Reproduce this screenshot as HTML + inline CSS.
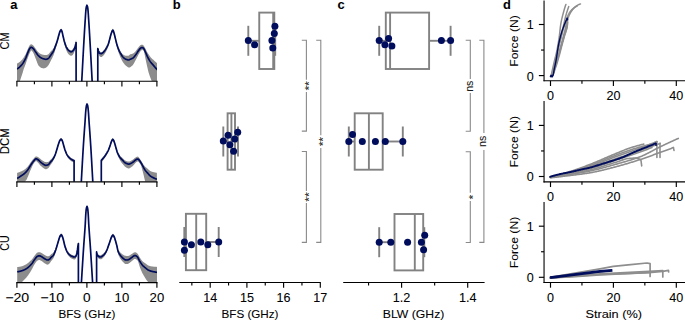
<!DOCTYPE html>
<html><head><meta charset="utf-8"><style>
html,body{margin:0;padding:0;background:#fff;width:685px;height:320px;overflow:hidden}
svg{display:block;font-family:"Liberation Sans",sans-serif}
text{stroke:currentColor;stroke-width:0.08px}
</style></head><body>
<svg width="685" height="320" viewBox="0 0 685 320">
<defs><clipPath id="ca0"><rect x="16.9" y="-0.8" width="140.1" height="82"/></clipPath>
<clipPath id="ca1"><rect x="16.9" y="99.85" width="140.1" height="82"/></clipPath>
<clipPath id="ca2"><rect x="16.9" y="200.6" width="140.1" height="82"/></clipPath></defs>
<g clip-path="url(#ca0)">
<polygon points="17,63.52 17.25,63.41 17.5,63.3 17.75,63.18 18,63.04 18.25,62.9 18.5,62.75 18.75,62.59 18.99,62.43 19.24,62.26 19.49,62.08 19.74,61.9 19.99,61.71 20.24,61.5 20.49,61.29 20.74,61.06 20.99,60.82 21.24,60.58 21.49,60.32 21.74,60.05 21.99,59.77 22.24,59.48 22.49,59.17 22.74,58.86 22.98,58.53 23.23,58.18 23.48,57.81 23.73,57.42 23.98,57.04 24.23,56.64 24.48,56.23 24.73,55.8 24.98,55.36 25.23,54.91 25.48,54.44 25.73,53.96 25.98,53.43 26.23,52.87 26.48,52.28 26.73,51.67 26.97,51.06 27.22,50.44 27.47,49.84 27.72,49.27 27.97,48.73 28.22,48.2 28.47,47.65 28.72,47.1 28.97,46.57 29.22,46.09 29.47,45.67 29.72,45.33 29.97,45.08 30.22,44.84 30.47,44.62 30.72,44.44 30.96,44.33 31.21,44.3 31.46,44.32 31.71,44.4 31.96,44.53 32.21,44.69 32.46,44.87 32.71,45.08 32.96,45.28 33.21,45.48 33.46,45.71 33.71,45.99 33.96,46.31 34.21,46.65 34.46,47.01 34.71,47.38 34.95,47.74 35.2,48.1 35.45,48.44 35.7,48.77 35.95,49.12 36.2,49.47 36.45,49.83 36.7,50.19 36.95,50.54 37.2,50.88 37.45,51.21 37.7,51.53 37.95,51.82 38.2,52.09 38.45,52.33 38.69,52.54 38.94,52.74 39.19,52.94 39.44,53.13 39.69,53.31 39.94,53.48 40.19,53.63 40.44,53.78 40.69,53.91 40.94,54.02 41.19,54.13 41.44,54.23 41.69,54.33 41.94,54.42 42.19,54.5 42.44,54.58 42.68,54.65 42.93,54.72 43.18,54.77 43.43,54.83 43.68,54.87 43.93,54.91 44.18,54.95 44.43,55 44.68,55.03 44.93,55.07 45.18,55.1 45.43,55.11 45.68,55.12 45.93,55.11 46.18,55.1 46.43,55.08 46.67,55.03 46.92,54.96 47.17,54.87 47.42,54.77 47.67,54.65 47.92,54.54 48.17,54.41 48.42,54.23 48.67,54 48.92,53.74 49.17,53.44 49.42,53.12 49.67,52.79 49.92,52.43 50.17,52.13 50.42,51.85 50.66,51.58 50.91,51.32 51.16,51.07 51.41,50.82 51.66,50.56 51.91,50.3 52.16,50.02 52.41,49.73 52.66,49.43 52.91,49.1 53.16,48.75 53.41,48.37 53.66,47.95 53.91,47.5 54.16,46.99 54.41,46.44 54.65,45.87 54.9,45.28 55.15,44.68 55.4,44.08 55.65,43.47 55.9,42.86 56.15,42.23 56.4,41.59 56.65,40.92 56.9,40.23 57.15,39.52 57.4,38.79 57.65,38.01 57.9,37.16 58.15,36.23 58.39,35.27 58.64,34.34 58.89,33.47 59.14,32.61 59.39,31.75 59.64,30.94 59.89,30.25 60.14,29.73 60.39,29.29 60.64,28.9 60.89,28.63 61.14,28.56 61.39,28.82 61.64,29.34 61.89,29.99 62.14,30.71 62.38,31.68 62.63,32.84 62.88,34.04 63.13,35.14 63.38,36.19 63.63,37.24 63.88,38.28 64.13,39.28 64.38,40.19 64.63,41.02 64.88,41.82 65.13,42.58 65.38,43.3 65.63,43.98 65.88,44.6 66.13,45.17 66.37,45.67 66.62,46.13 66.87,46.56 67.12,46.97 67.37,47.35 67.62,47.71 67.87,48.04 68.12,48.34 68.37,48.6 68.62,48.83 68.87,49.04 69.12,49.25 69.37,49.45 69.62,49.65 69.87,49.83 70.12,49.98 70.36,50.12 70.61,50.22 70.86,50.28 71.11,50.3 71.36,50.27 71.61,50.2 71.86,50.1 72.11,49.92 72.36,49.67 72.61,49.41 72.86,49.13 73.11,48.83 73.36,48.47 73.61,48.03 73.86,47.52 74.11,46.96 74.35,46.34 74.6,45.67 74.85,44.97 75.1,44.17 75.35,43.18 75.6,42.06 75.85,40.87 76.1,39.54 76.1,45.04 75.85,46.37 75.6,47.56 75.35,48.68 75.1,49.67 74.85,50.47 74.6,51.17 74.35,51.84 74.11,52.46 73.86,53.02 73.61,53.53 73.36,53.97 73.11,54.33 72.86,54.63 72.61,54.91 72.36,55.17 72.11,55.42 71.86,55.6 71.61,55.7 71.36,55.77 71.11,55.8 70.86,55.78 70.61,55.72 70.36,55.62 70.12,55.48 69.87,55.33 69.62,55.15 69.37,54.95 69.12,54.75 68.87,54.54 68.62,54.33 68.37,54.05 68.12,53.71 67.87,53.32 67.62,52.91 67.37,52.47 67.12,52 66.87,51.5 66.62,50.98 66.37,50.44 66.13,49.86 65.88,49.2 65.63,48.49 65.38,47.73 65.13,46.92 64.88,46.06 64.63,45.14 64.38,44.18 64.13,43.14 63.88,42.02 63.63,40.86 63.38,39.68 63.13,38.5 62.88,37.28 62.63,35.96 62.38,34.67 62.14,33.57 61.89,32.81 61.64,32.2 61.39,31.72 61.14,31.51 60.89,31.62 60.64,31.94 60.39,32.37 60.14,32.86 59.89,33.42 59.64,34.15 59.39,35.01 59.14,35.91 58.89,36.81 58.64,37.72 58.39,38.7 58.15,39.7 57.9,40.74 57.65,41.77 57.4,42.74 57.15,43.66 56.9,44.56 56.65,45.43 56.4,46.29 56.15,47.12 55.9,47.93 55.65,48.73 55.4,49.53 55.15,50.32 54.9,51.1 54.65,51.88 54.41,52.64 54.16,53.37 53.91,54.08 53.66,54.75 53.41,55.39 53.16,55.98 52.91,56.55 52.66,57.1 52.41,57.62 52.16,58.13 51.91,58.63 51.66,59.11 51.41,59.58 51.16,60.06 50.91,60.52 50.66,61 50.42,61.49 50.17,61.98 49.92,62.49 49.67,62.99 49.42,63.49 49.17,63.96 48.92,64.41 48.67,64.83 48.42,65.21 48.17,65.55 47.92,65.84 47.67,66.11 47.42,66.38 47.17,66.64 46.92,66.88 46.67,67.11 46.43,67.31 46.18,67.49 45.93,67.64 45.68,67.78 45.43,67.9 45.18,68.01 44.93,68.1 44.68,68.19 44.43,68.28 44.18,68.36 43.93,68.42 43.68,68.4 43.43,68.37 43.18,68.33 42.93,68.29 42.68,68.24 42.44,68.18 42.19,68.12 41.94,68.05 41.69,67.98 41.44,67.9 41.19,67.82 40.94,67.71 40.69,67.54 40.44,67.35 40.19,67.15 39.94,66.94 39.69,66.72 39.44,66.48 39.19,66.24 38.94,65.99 38.69,65.73 38.45,65.46 38.2,65.07 37.95,64.49 37.7,63.9 37.45,63.28 37.2,62.65 36.95,62 36.7,61.34 36.45,60.69 36.2,60.03 35.95,59.37 35.7,58.72 35.45,58.09 35.2,57.48 34.95,56.85 34.71,56.22 34.46,55.58 34.21,54.95 33.96,54.34 33.71,53.75 33.46,53.21 33.21,52.7 32.96,52.26 32.71,51.91 32.46,51.57 32.21,51.24 31.96,50.93 31.71,50.67 31.46,50.44 31.21,50.33 30.96,50.62 30.72,50.99 30.47,51.42 30.22,51.9 29.97,52.39 29.72,52.91 29.47,53.5 29.22,54.08 28.97,54.67 28.72,55.32 28.47,55.98 28.22,56.65 27.97,57.3 27.72,57.96 27.47,58.65 27.22,59.37 26.97,60.1 26.73,60.83 26.48,61.56 26.23,62.26 25.98,62.95 25.73,63.7 25.48,64.41 25.23,65.09 24.98,65.77 24.73,66.43 24.48,67.08 24.23,67.72 23.98,68.34 23.73,68.96 23.48,69.84 23.23,70.71 22.98,71.56 22.74,72.39 22.49,73.2 22.24,74 21.99,74.79 21.74,75.57 21.49,76.34 21.24,77.1 20.99,77.85 20.74,78.58 20.49,79.3 20.24,80.02 19.99,80.75 19.74,81.2 19.49,81.2 19.24,81.2 18.99,81.2 18.75,81.2 18.5,81.2 18.25,81.2 18,81.2 17.75,81.2 17.5,81.2 17.25,81.2 17,81.2" fill="#8c8c8c"/>
<polygon points="97.8,46.5 98.05,47.62 98.3,48.63 98.55,49.5 98.8,50.16 99.04,50.63 99.29,51.03 99.54,51.36 99.79,51.61 100.04,51.76 100.29,51.86 100.54,51.95 100.79,52.03 101.04,52.09 101.29,52.1 101.53,52.07 101.78,51.98 102.03,51.84 102.28,51.67 102.53,51.48 102.78,51.28 103.03,51.08 103.28,50.86 103.53,50.61 103.77,50.33 104.02,50.03 104.27,49.72 104.52,49.4 104.77,49.07 105.02,48.73 105.27,48.36 105.52,47.98 105.77,47.58 106.02,47.17 106.26,46.75 106.51,46.31 106.76,45.86 107.01,45.38 107.26,44.89 107.51,44.37 107.76,43.85 108.01,43.3 108.26,42.69 108.51,41.99 108.75,41.15 109,40.23 109.25,39.31 109.5,38.4 109.75,37.46 110,36.5 110.25,35.5 110.5,34.48 110.75,33.56 110.99,32.73 111.24,31.96 111.49,31.24 111.74,30.53 111.99,29.92 112.24,29.43 112.49,28.98 112.74,28.71 112.99,28.81 113.24,29.19 113.48,29.69 113.73,30.5 113.98,31.38 114.23,32.28 114.48,33.23 114.73,34.23 114.98,35.31 115.23,36.39 115.48,37.42 115.72,38.41 115.97,39.39 116.22,40.41 116.47,41.43 116.72,42.37 116.97,43.23 117.22,44.04 117.47,44.81 117.72,45.54 117.97,46.25 118.21,46.88 118.46,47.47 118.71,48.03 118.96,48.55 119.21,49.05 119.46,49.53 119.71,49.98 119.96,50.41 120.21,50.81 120.45,51.19 120.7,51.56 120.95,51.93 121.2,52.3 121.45,52.69 121.7,53.05 121.95,53.38 122.2,53.69 122.45,53.95 122.7,54.17 122.94,54.37 123.19,54.57 123.44,54.74 123.69,54.91 123.94,55.05 124.19,55.19 124.44,55.31 124.69,55.41 124.94,55.49 125.18,55.56 125.43,55.63 125.68,55.69 125.93,55.73 126.18,55.77 126.43,55.79 126.68,55.81 126.93,55.81 127.18,55.82 127.43,55.82 127.67,55.82 127.92,55.81 128.17,55.78 128.42,55.72 128.67,55.61 128.92,55.43 129.17,55.21 129.42,54.97 129.67,54.72 129.92,54.48 130.16,54.36 130.41,54.3 130.66,54.25 130.91,54.19 131.16,54.14 131.41,54.08 131.66,54.01 131.91,53.94 132.16,53.86 132.4,53.77 132.65,53.67 132.9,53.56 133.15,53.43 133.4,53.27 133.65,53.09 133.9,52.89 134.15,52.67 134.4,52.43 134.65,52.18 134.89,51.93 135.14,51.67 135.39,51.41 135.64,51.15 135.89,50.86 136.14,50.54 136.39,50.2 136.64,49.85 136.89,49.49 137.13,49.13 137.38,48.77 137.63,48.42 137.88,48.08 138.13,47.75 138.38,47.45 138.63,47.15 138.88,46.85 139.13,46.54 139.38,46.23 139.62,45.94 139.87,45.67 140.12,45.43 140.37,45.23 140.62,45.07 140.87,44.96 141.12,44.87 141.37,44.79 141.62,44.73 141.86,44.69 142.11,44.69 142.36,44.72 142.61,44.81 142.86,44.96 143.11,45.15 143.36,45.37 143.61,45.61 143.86,45.91 144.11,46.28 144.35,46.68 144.6,47.14 144.85,47.63 145.1,48.12 145.35,48.6 145.6,49.05 145.85,49.51 146.1,49.98 146.35,50.47 146.59,50.96 146.84,51.44 147.09,51.92 147.34,52.38 147.59,52.81 147.84,53.21 148.09,53.59 148.34,53.96 148.59,54.32 148.84,54.7 149.08,55.09 149.33,55.47 149.58,55.84 149.83,56.2 150.08,56.54 150.33,56.87 150.58,57.19 150.83,57.49 151.08,57.77 151.33,58.04 151.57,58.3 151.82,58.55 152.07,58.78 152.32,58.99 152.57,59.19 152.82,59.4 153.07,59.61 153.32,59.83 153.57,60.05 153.81,60.28 154.06,60.51 154.31,60.74 154.56,60.97 154.81,61.2 155.06,61.42 155.31,61.64 155.56,61.86 155.81,62.07 156.06,62.28 156.3,62.49 156.55,62.7 156.8,62.9 157.05,63.1 157.3,63.3 157.3,81.2 157.05,81.2 156.8,81.2 156.55,81.2 156.3,81.2 156.06,81.2 155.81,81.2 155.56,81.2 155.31,81.2 155.06,81.2 154.81,81.2 154.56,81.2 154.31,81.2 154.06,81.2 153.81,81.2 153.57,81.2 153.32,81.2 153.07,81.2 152.82,81.2 152.57,81.2 152.32,81.2 152.07,81.2 151.82,81.2 151.57,80.71 151.33,80.11 151.08,79.49 150.83,78.86 150.58,78.22 150.33,77.56 150.08,76.89 149.83,76.2 149.58,75.49 149.33,74.78 149.08,74.05 148.84,73.31 148.59,72.41 148.34,71.41 148.09,70.41 147.84,69.39 147.59,68.36 147.34,67.29 147.09,66.2 146.84,65.09 146.59,63.97 146.35,62.85 146.1,61.73 145.85,60.54 145.6,59.31 145.35,58.09 145.1,56.84 144.85,55.57 144.6,54.31 144.35,53.08 144.11,51.9 143.86,51.19 143.61,50.86 143.36,50.6 143.11,50.35 142.86,50.13 142.61,49.95 142.36,49.84 142.11,49.84 141.86,49.99 141.62,50.17 141.37,50.38 141.12,50.61 140.87,50.85 140.62,51.1 140.37,51.41 140.12,51.76 139.87,52.15 139.62,52.56 139.38,53 139.13,53.45 138.88,53.91 138.63,54.36 138.38,54.81 138.13,55.26 137.88,55.73 137.63,56.21 137.38,56.71 137.13,57.22 136.89,57.73 136.64,58.24 136.39,58.73 136.14,59.22 135.89,59.69 135.64,60.13 135.39,60.6 135.14,61.08 134.89,61.56 134.65,62.04 134.4,62.51 134.15,62.96 133.9,63.41 133.65,63.83 133.4,64.23 133.15,64.61 132.9,64.96 132.65,65.25 132.4,65.48 132.16,65.71 131.91,65.92 131.66,66.12 131.41,66.32 131.16,66.52 130.91,66.71 130.66,66.89 130.41,67.08 130.16,67.27 129.92,67.41 129.67,67.45 129.42,67.5 129.17,67.54 128.92,67.56 128.67,67.54 128.42,67.46 128.17,67.34 127.92,67.19 127.67,67.02 127.43,66.84 127.18,66.65 126.93,66.47 126.68,66.28 126.43,66.08 126.18,65.88 125.93,65.66 125.68,65.43 125.43,65.2 125.18,64.95 124.94,64.69 124.69,64.43 124.44,64.15 124.19,63.85 123.94,63.53 123.69,63.2 123.44,62.86 123.19,62.5 122.94,62.13 122.7,61.74 122.45,61.34 122.2,60.9 121.95,60.41 121.7,59.89 121.45,59.36 121.2,58.82 120.95,58.29 120.7,57.76 120.45,57.24 120.21,56.7 119.96,56.14 119.71,55.55 119.46,54.94 119.21,54.31 118.96,53.66 118.71,52.97 118.46,52.26 118.21,51.51 117.97,50.74 117.72,49.97 117.47,49.17 117.22,48.34 116.97,47.47 116.72,46.55 116.47,45.55 116.22,44.47 115.97,43.39 115.72,42.34 115.48,41.29 115.23,40.2 114.98,39.05 114.73,37.91 114.48,36.85 114.23,35.84 113.98,34.88 113.73,34 113.48,33.19 113.24,32.69 112.99,32.31 112.74,32.21 112.49,32.48 112.24,32.93 111.99,33.42 111.74,34.03 111.49,34.74 111.24,35.46 110.99,36.23 110.75,37.06 110.5,37.98 110.25,39 110,40.01 109.75,41.02 109.5,42.02 109.25,43 109,43.98 108.75,44.96 108.51,45.86 108.26,46.62 108.01,47.3 107.76,47.91 107.51,48.5 107.26,49.07 107.01,49.63 106.76,50.16 106.51,50.68 106.26,51.19 106.02,51.67 105.77,52.11 105.52,52.53 105.27,52.94 105.02,53.33 104.77,53.7 104.52,54.05 104.27,54.39 104.02,54.73 103.77,55.05 103.53,55.36 103.28,55.63 103.03,55.88 102.78,56.1 102.53,56.32 102.28,56.54 102.03,56.74 101.78,56.9 101.53,57.02 101.29,57.07 101.04,57.09 100.79,57 100.54,56.88 100.29,56.75 100.04,56.61 99.79,56.42 99.54,56.13 99.29,55.76 99.04,55.32 98.8,54.82 98.55,54.11 98.3,53.21 98.05,52.16 97.8,51" fill="#8c8c8c"/>
<polyline points="17,69 17.25,68.86 17.5,68.7 17.75,68.54 18,68.37 18.25,68.18 18.5,67.99 18.75,67.8 18.99,67.59 19.24,67.38 19.49,67.16 19.74,66.94 19.99,66.71 20.24,66.47 20.49,66.22 20.74,65.96 20.99,65.69 21.24,65.41 21.49,65.12 21.74,64.82 21.99,64.5 22.24,64.18 22.49,63.84 22.74,63.49 22.98,63.13 23.23,62.75 23.48,62.35 23.73,61.93 23.98,61.49 24.23,61.04 24.48,60.57 24.73,60.08 24.98,59.59 25.23,59.08 25.48,58.56 25.73,58.02 25.98,57.44 26.23,56.82 26.48,56.17 26.73,55.5 26.97,54.83 27.22,54.15 27.47,53.5 27.72,52.86 27.97,52.26 28.22,51.68 28.47,51.07 28.72,50.46 28.97,49.87 29.22,49.33 29.47,48.87 29.72,48.5 29.97,48.22 30.22,47.95 30.47,47.7 30.72,47.5 30.96,47.36 31.21,47.3 31.46,47.32 31.71,47.4 31.96,47.53 32.21,47.69 32.46,47.87 32.71,48.08 32.96,48.28 33.21,48.49 33.46,48.75 33.71,49.05 33.96,49.38 34.21,49.74 34.46,50.12 34.71,50.51 34.95,50.9 35.2,51.28 35.45,51.64 35.7,51.98 35.95,52.34 36.2,52.7 36.45,53.07 36.7,53.43 36.95,53.79 37.2,54.14 37.45,54.48 37.7,54.81 37.95,55.11 38.2,55.39 38.45,55.65 38.69,55.9 38.94,56.14 39.19,56.37 39.44,56.6 39.69,56.82 39.94,57.02 40.19,57.21 40.44,57.39 40.69,57.56 40.94,57.71 41.19,57.85 41.44,57.97 41.69,58.1 41.94,58.21 42.19,58.32 42.44,58.42 42.68,58.52 42.93,58.61 43.18,58.69 43.43,58.77 43.68,58.84 43.93,58.91 44.18,58.97 44.43,59.04 44.68,59.1 44.93,59.16 45.18,59.21 45.43,59.26 45.68,59.29 45.93,59.3 46.18,59.29 46.43,59.26 46.67,59.19 46.92,59.11 47.17,59.01 47.42,58.9 47.67,58.77 47.92,58.64 48.17,58.5 48.42,58.3 48.67,58.07 48.92,57.79 49.17,57.49 49.42,57.15 49.67,56.8 49.92,56.44 50.17,56.07 50.42,55.7 50.66,55.33 50.91,54.98 51.16,54.64 51.41,54.29 51.66,53.94 51.91,53.58 52.16,53.21 52.41,52.83 52.66,52.43 52.91,52.01 53.16,51.56 53.41,51.09 53.66,50.58 53.91,50.03 54.16,49.45 54.41,48.84 54.65,48.21 54.9,47.56 55.15,46.9 55.4,46.23 55.65,45.56 55.9,44.88 56.15,44.19 56.4,43.49 56.65,42.76 56.9,42.01 57.15,41.24 57.4,40.44 57.65,39.6 57.9,38.68 58.15,37.72 58.39,36.75 58.64,35.81 58.89,34.92 59.14,34.06 59.39,33.18 59.64,32.36 59.89,31.65 60.14,31.13 60.39,30.67 60.64,30.27 60.89,29.99 61.14,29.9 61.39,30.15 61.64,30.66 61.89,31.3 62.14,32.01 62.38,32.98 62.63,34.14 62.88,35.34 63.13,36.44 63.38,37.49 63.63,38.54 63.88,39.58 64.13,40.58 64.38,41.49 64.63,42.32 64.88,43.12 65.13,43.89 65.38,44.62 65.63,45.31 65.88,45.95 66.13,46.53 66.37,47.05 66.62,47.52 66.87,47.97 67.12,48.39 67.37,48.79 67.62,49.16 67.87,49.5 68.12,49.81 68.37,50.09 68.62,50.33 68.87,50.54 69.12,50.75 69.37,50.95 69.62,51.15 69.87,51.33 70.12,51.48 70.36,51.62 70.61,51.72 70.86,51.78 71.11,51.8 71.36,51.77 71.61,51.7 71.86,51.6 72.11,51.46 72.36,51.29 72.61,51.11 72.86,50.92 73.11,50.7 73.36,50.42 73.61,50.07 73.86,49.64 74.11,49.16 74.35,48.62 74.6,48.04 74.85,47.42 75.1,46.71 75.35,45.82 75.6,44.81 75.85,43.72 76.1,42.5 76.1,91.2 80.66,101.2 80.75,99.57 80.84,97.95 80.93,96.32 81.02,94.69 81.11,93.06 81.19,91.44 81.28,89.81 81.37,88.18 81.46,86.56 81.55,84.93 81.64,83.3 81.72,81.67 81.81,80.05 81.9,78.42 81.99,76.79 82.08,75.17 82.16,73.54 82.25,71.91 82.34,70.28 82.42,68.66 82.51,67.03 82.59,65.4 82.68,63.78 82.77,62.15 82.86,60.52 82.94,58.89 83.03,57.27 83.12,55.64 83.21,54.01 83.29,52.39 83.38,50.76 83.47,49.13 83.56,47.51 83.65,45.88 83.75,44.25 83.84,42.62 83.93,41 84.03,39.37 84.12,37.74 84.22,36.12 84.31,34.49 84.41,32.86 84.5,31.23 84.6,29.61 84.7,27.98 84.8,26.35 84.9,24.73 85.01,23.1 85.11,21.47 85.22,19.84 85.33,18.22 85.43,16.59 85.53,14.96 85.64,13.34 85.77,11.71 85.91,10.08 86.09,8.45 86.35,6.83 86.95,5.2 87.55,6.83 87.81,8.45 87.99,10.08 88.13,11.71 88.26,13.34 88.37,14.96 88.47,16.59 88.57,18.22 88.68,19.84 88.79,21.47 88.89,23.1 89,24.73 89.1,26.35 89.2,27.98 89.3,29.61 89.4,31.23 89.49,32.86 89.59,34.49 89.68,36.12 89.78,37.74 89.87,39.37 89.97,41 90.06,42.62 90.15,44.25 90.25,45.88 90.34,47.51 90.43,49.13 90.52,50.76 90.61,52.39 90.69,54.01 90.78,55.64 90.87,57.27 90.96,58.89 91.04,60.52 91.13,62.15 91.22,63.78 91.31,65.4 91.39,67.03 91.48,68.66 91.56,70.28 91.65,71.91 91.74,73.54 91.82,75.17 91.91,76.79 92,78.42 92.09,80.05 92.18,81.67 92.26,83.3 92.35,84.93 92.44,86.56 92.53,88.18 92.62,89.81 92.71,91.44 92.79,93.06 92.88,94.69 92.97,96.32 93.06,97.95 93.15,99.57 93.24,101.2 97.8,91.2 97.8,48.5 98.05,49.58 98.3,50.56 98.55,51.38 98.8,52.01 99.04,52.43 99.29,52.79 99.54,53.09 99.79,53.3 100.04,53.41 100.29,53.47 100.54,53.53 100.79,53.56 101.04,53.59 101.29,53.6 101.53,53.57 101.78,53.48 102.03,53.34 102.28,53.17 102.53,52.98 102.78,52.78 103.03,52.58 103.28,52.36 103.53,52.11 103.77,51.83 104.02,51.53 104.27,51.22 104.52,50.9 104.77,50.57 105.02,50.23 105.27,49.86 105.52,49.48 105.77,49.08 106.02,48.67 106.26,48.25 106.51,47.81 106.76,47.36 107.01,46.88 107.26,46.39 107.51,45.87 107.76,45.35 108.01,44.8 108.26,44.19 108.51,43.49 108.75,42.65 109,41.73 109.25,40.81 109.5,39.9 109.75,38.96 110,38 110.25,37 110.5,35.98 110.75,35.06 110.99,34.23 111.24,33.46 111.49,32.74 111.74,32.03 111.99,31.42 112.24,30.93 112.49,30.48 112.74,30.21 112.99,30.31 113.24,30.69 113.48,31.19 113.73,32 113.98,32.88 114.23,33.78 114.48,34.73 114.73,35.73 114.98,36.81 115.23,37.89 115.48,38.92 115.72,39.91 115.97,40.89 116.22,41.91 116.47,42.93 116.72,43.87 116.97,44.73 117.22,45.54 117.47,46.31 117.72,47.04 117.97,47.75 118.21,48.42 118.46,49.06 118.71,49.67 118.96,50.24 119.21,50.79 119.46,51.32 119.71,51.82 119.96,52.3 120.21,52.75 120.45,53.18 120.7,53.6 120.95,54.02 121.2,54.44 121.45,54.88 121.7,55.31 121.95,55.72 122.2,56.1 122.45,56.43 122.7,56.73 122.94,57.01 123.19,57.27 123.44,57.53 123.69,57.76 123.94,57.99 124.19,58.19 124.44,58.39 124.69,58.56 124.94,58.72 125.18,58.87 125.43,59.01 125.68,59.14 125.93,59.26 126.18,59.37 126.43,59.47 126.68,59.56 126.93,59.64 127.18,59.72 127.43,59.8 127.67,59.87 127.92,59.93 128.17,59.98 128.42,60 128.67,59.99 128.92,59.92 129.17,59.82 129.42,59.69 129.67,59.56 129.92,59.44 130.16,59.33 130.41,59.23 130.66,59.13 130.91,59.03 131.16,58.93 131.41,58.83 131.66,58.72 131.91,58.6 132.16,58.48 132.4,58.34 132.65,58.19 132.9,58.03 133.15,57.84 133.4,57.62 133.65,57.38 133.9,57.11 134.15,56.83 134.4,56.53 134.65,56.22 134.89,55.91 135.14,55.59 135.39,55.27 135.64,54.95 135.89,54.61 136.14,54.26 136.39,53.88 136.64,53.49 136.89,53.1 137.13,52.7 137.38,52.3 137.63,51.91 137.88,51.53 138.13,51.17 138.38,50.83 138.63,50.49 138.88,50.15 139.13,49.8 139.38,49.46 139.62,49.13 139.87,48.83 140.12,48.55 140.37,48.31 140.62,48.11 140.87,47.96 141.12,47.84 141.37,47.72 141.62,47.61 141.86,47.54 142.11,47.5 142.36,47.52 142.61,47.61 142.86,47.76 143.11,47.95 143.36,48.17 143.61,48.41 143.86,48.71 144.11,49.11 144.35,49.6 144.6,50.15 144.85,50.72 145.1,51.31 145.35,51.88 145.6,52.41 145.85,52.96 146.1,53.52 146.35,54.09 146.59,54.67 146.84,55.25 147.09,55.82 147.34,56.36 147.59,56.89 147.84,57.38 148.09,57.85 148.34,58.31 148.59,58.77 148.84,59.21 149.08,59.64 149.33,60.06 149.58,60.47 149.83,60.87 150.08,61.25 150.33,61.62 150.58,61.97 150.83,62.31 151.08,62.63 151.33,62.94 151.57,63.23 151.82,63.52 152.07,63.8 152.32,64.08 152.57,64.35 152.82,64.63 153.07,64.91 153.32,65.2 153.57,65.5 153.81,65.79 154.06,66.09 154.31,66.39 154.56,66.69 154.81,66.99 155.06,67.29 155.31,67.58 155.56,67.87 155.81,68.15 156.06,68.43 156.3,68.71 156.55,68.99 156.8,69.26 157.05,69.53 157.3,69.8" fill="none" stroke="#000c5c" stroke-width="1.7" stroke-linejoin="round"/>
</g>
<line x1="16.3" y1="81.2" x2="157.5" y2="81.2" stroke="#000" stroke-width="1.1"/>
<line x1="16.9" y1="81.2" x2="16.9" y2="86.4" stroke="#000" stroke-width="1.15"/>
<line x1="34.4" y1="81.2" x2="34.4" y2="84.2" stroke="#000" stroke-width="1.15"/>
<line x1="51.9" y1="81.2" x2="51.9" y2="86.4" stroke="#000" stroke-width="1.15"/>
<line x1="69.4" y1="81.2" x2="69.4" y2="84.2" stroke="#000" stroke-width="1.15"/>
<line x1="86.9" y1="81.2" x2="86.9" y2="86.4" stroke="#000" stroke-width="1.15"/>
<line x1="104.4" y1="81.2" x2="104.4" y2="84.2" stroke="#000" stroke-width="1.15"/>
<line x1="121.9" y1="81.2" x2="121.9" y2="86.4" stroke="#000" stroke-width="1.15"/>
<line x1="139.4" y1="81.2" x2="139.4" y2="84.2" stroke="#000" stroke-width="1.15"/>
<line x1="156.9" y1="81.2" x2="156.9" y2="86.4" stroke="#000" stroke-width="1.15"/>
<g clip-path="url(#ca1)">
<polygon points="17.1,172.93 17.35,172.85 17.6,172.78 17.85,172.7 18.1,172.62 18.35,172.53 18.6,172.45 18.85,172.36 19.1,172.26 19.35,172.16 19.6,172.06 19.85,171.95 20.1,171.84 20.35,171.73 20.6,171.61 20.85,171.5 21.1,171.39 21.35,171.27 21.6,171.15 21.85,171.04 22.1,170.92 22.35,170.81 22.6,170.69 22.85,170.57 23.1,170.44 23.35,170.31 23.6,170.16 23.85,170.01 24.1,169.86 24.35,169.7 24.6,169.53 24.85,169.35 25.1,169.17 25.35,168.97 25.6,168.77 25.85,168.55 26.1,168.32 26.35,168.09 26.6,167.83 26.85,167.56 27.1,167.29 27.35,167 27.6,166.71 27.85,166.41 28.1,166.1 28.35,165.77 28.6,165.42 28.85,165.05 29.1,164.68 29.35,164.29 29.6,163.9 29.85,163.52 30.1,163.14 30.35,162.78 30.6,162.43 30.85,162.09 31.1,161.74 31.35,161.39 31.6,161.04 31.85,160.71 32.1,160.37 32.35,160.05 32.6,159.74 32.85,159.45 33.1,159.17 33.35,158.91 33.6,158.64 33.85,158.34 34.1,158.03 34.35,157.73 34.6,157.44 34.85,157.18 35.1,156.94 35.35,156.75 35.6,156.6 35.85,156.52 36.1,156.5 36.35,156.48 36.6,156.5 36.85,156.56 37.1,156.65 37.35,156.75 37.6,156.87 37.85,156.99 38.1,157.11 38.35,157.26 38.6,157.45 38.85,157.65 39.1,157.87 39.35,158.08 39.6,158.28 39.85,158.46 40.1,158.65 40.35,158.87 40.6,159.08 40.85,159.29 41.1,159.5 41.35,159.71 41.6,159.9 41.85,160.09 42.1,160.26 42.35,160.43 42.6,160.58 42.85,160.73 43.1,160.89 43.35,161.05 43.6,161.21 43.85,161.37 44.1,161.52 44.35,161.66 44.6,161.78 44.85,161.89 45.1,161.98 45.35,162.05 45.6,162.09 45.85,162.1 46.1,162.11 46.35,162.13 46.6,162.13 46.85,162.12 47.1,162.1 47.35,162.07 47.6,162.03 47.85,161.98 48.1,161.92 48.35,161.82 48.6,161.66 48.85,161.45 49.1,161.21 49.35,160.95 49.6,160.67 49.85,160.39 50.1,160.11 50.35,159.86 50.6,159.64 50.85,159.42 51.1,159.2 51.35,158.98 51.6,158.76 51.85,158.53 52.1,158.28 52.35,158.02 52.6,157.74 52.85,157.44 53.1,157.11 53.35,156.76 53.6,156.38 53.85,155.98 54.1,155.54 54.35,155.04 54.6,154.52 54.85,153.97 55.1,153.4 55.35,152.79 55.6,152.11 55.85,151.37 56.1,150.59 56.35,149.77 56.6,148.95 56.85,148.13 57.1,147.33 57.35,146.49 57.6,145.63 57.85,144.77 58.1,143.94 58.35,143.17 58.6,142.43 58.85,141.68 59.1,140.95 59.35,140.29 59.6,139.74 59.85,139.32 60.1,138.94 60.35,138.58 60.6,138.28 60.85,138.08 61.1,138 61.35,138.1 61.6,138.38 61.85,138.77 62.1,139.22 62.35,139.72 62.6,140.41 62.85,141.25 63.1,142.18 63.35,143.12 63.6,144 63.85,144.86 64.1,145.74 64.35,146.63 64.6,147.48 64.85,148.27 65.1,148.97 65.35,149.64 65.6,150.3 65.85,150.92 66.1,151.52 66.35,152.09 66.6,152.62 66.85,153.12 67.1,153.57 67.35,153.98 67.6,154.36 67.85,154.72 68.1,155.06 68.35,155.38 68.6,155.68 68.85,155.97 69.1,156.24 69.35,156.5 69.6,156.74 69.85,156.96 70.1,157.17 70.35,157.36 70.6,157.55 70.85,157.72 71.1,157.89 71.35,158.05 71.6,158.21 71.85,158.35 72.1,158.49 72.35,158.62 72.6,158.74 72.85,158.85 73.1,158.96 73.35,159.06 73.6,159.15 73.85,159.23 74.1,159.3 74.1,162.6 73.85,162.51 73.6,162.42 73.35,162.32 73.1,162.21 72.85,162.09 72.6,161.97 72.35,161.83 72.1,161.69 71.85,161.54 71.6,161.38 71.35,161.22 71.1,161.05 70.85,160.86 70.6,160.67 70.35,160.48 70.1,160.27 69.85,160.05 69.6,159.81 69.35,159.56 69.1,159.3 68.85,159.01 68.6,158.71 68.35,158.4 68.1,158.06 67.85,157.71 67.6,157.33 67.35,156.93 67.1,156.5 66.85,156.03 66.6,155.52 66.35,154.97 66.1,154.38 65.85,153.76 65.6,153.12 65.35,152.45 65.1,151.76 64.85,151.03 64.6,150.22 64.35,149.35 64.1,148.45 63.85,147.54 63.6,146.67 63.35,145.77 63.1,144.81 62.85,143.87 62.6,143 62.35,142.29 62.1,141.78 61.85,141.31 61.6,140.9 61.35,140.61 61.1,140.48 60.85,140.54 60.6,140.73 60.35,141.01 60.1,141.35 59.85,141.74 59.6,142.21 59.35,142.81 59.1,143.52 58.85,144.29 58.6,145.08 58.35,145.87 58.1,146.69 57.85,147.57 57.6,148.47 57.35,149.38 57.1,150.26 56.85,151.11 56.6,151.97 56.35,152.84 56.1,153.7 55.85,154.53 55.6,155.32 55.35,156.04 55.1,156.69 54.85,157.31 54.6,157.91 54.35,158.47 54.1,159.02 53.85,159.56 53.6,160.08 53.35,160.58 53.1,161.06 52.85,161.51 52.6,161.94 52.35,162.35 52.1,162.73 51.85,163.1 51.6,163.46 51.35,163.81 51.1,164.15 50.85,164.49 50.6,164.84 50.35,165.19 50.1,165.56 49.85,165.95 49.6,166.34 49.35,166.73 49.1,167.1 48.85,167.44 48.6,167.75 48.35,168.02 48.1,168.23 47.85,168.39 47.6,168.55 47.35,168.7 47.1,168.83 46.85,168.96 46.6,169.08 46.35,169.18 46.1,169.27 45.85,169.29 45.6,169.24 45.35,169.17 45.1,169.08 44.85,168.96 44.6,168.82 44.35,168.67 44.1,168.5 43.85,168.32 43.6,168.13 43.35,167.94 43.1,167.75 42.85,167.56 42.6,167.38 42.35,167.2 42.1,167.01 41.85,166.8 41.6,166.59 41.35,166.36 41.1,166.13 40.85,165.89 40.6,165.65 40.35,165.41 40.1,165.16 39.85,164.89 39.6,164.59 39.35,164.27 39.1,163.93 38.85,163.59 38.6,163.26 38.35,162.96 38.1,162.68 37.85,162.44 37.6,162.2 37.35,161.96 37.1,161.74 36.85,161.53 36.6,161.35 36.35,161.2 36.1,161.1 35.85,161.16 35.6,161.28 35.35,161.47 35.1,161.7 34.85,161.98 34.6,162.28 34.35,162.61 34.1,162.95 33.85,163.3 33.6,163.64 33.35,164.12 33.1,164.58 32.85,165.07 32.6,165.57 32.35,166.09 32.1,166.62 31.85,167.16 31.6,167.71 31.35,168.26 31.1,168.82 30.85,169.38 30.6,169.93 30.35,170.49 30.1,171.06 29.85,171.68 29.6,172.33 29.35,172.99 29.1,173.65 28.85,174.3 28.6,174.94 28.35,175.56 28.1,176.16 27.85,176.74 27.6,177.31 27.35,177.87 27.1,178.42 26.85,178.97 26.6,179.5 26.35,180.03 26.1,180.34 25.85,180.59 25.6,180.83 25.35,181.06 25.1,181.28 24.85,181.49 24.6,181.69 24.35,181.85 24.1,181.85 23.85,181.85 23.6,181.85 23.35,181.85 23.1,181.85 22.85,181.85 22.6,181.85 22.35,181.85 22.1,181.85 21.85,181.85 21.6,181.85 21.35,181.85 21.1,181.85 20.85,181.85 20.6,181.85 20.35,181.85 20.1,181.85 19.85,181.85 19.6,181.85 19.35,181.85 19.1,181.85 18.85,181.85 18.6,181.85 18.35,181.85 18.1,181.85 17.85,181.85 17.6,181.85 17.35,181.85 17.1,181.85" fill="#8c8c8c"/>
<polygon points="101.3,159.1 101.55,158.81 101.8,158.53 102.05,158.24 102.3,157.95 102.55,157.66 102.8,157.38 103.05,157.1 103.29,156.82 103.54,156.54 103.79,156.24 104.04,155.94 104.29,155.62 104.54,155.29 104.79,154.95 105.04,154.59 105.29,154.23 105.54,153.86 105.79,153.48 106.04,153.09 106.29,152.68 106.54,152.27 106.79,151.85 107.03,151.43 107.28,151 107.53,150.56 107.78,150.12 108.03,149.65 108.28,149.14 108.53,148.59 108.78,148 109.03,147.37 109.28,146.72 109.53,146.05 109.78,145.36 110.03,144.63 110.28,143.87 110.53,143.07 110.77,142.21 111.02,141.42 111.27,140.73 111.52,140.1 111.77,139.55 112.02,139.07 112.27,138.59 112.52,138.25 112.77,138.22 113.02,138.38 113.27,138.65 113.52,138.97 113.77,139.47 114.02,140.09 114.27,140.74 114.51,141.48 114.76,142.28 115.01,143.16 115.26,144.11 115.51,145.04 115.76,145.92 116.01,146.78 116.26,147.62 116.51,148.48 116.76,149.36 117.01,150.22 117.26,150.93 117.51,151.52 117.76,152.05 118,152.52 118.25,152.97 118.5,153.41 118.75,153.83 119,154.24 119.25,154.63 119.5,155 119.75,155.32 120,155.62 120.25,155.91 120.5,156.17 120.75,156.42 121,156.66 121.25,156.89 121.5,157.11 121.74,157.32 121.99,157.52 122.24,157.75 122.49,157.98 122.74,158.21 122.99,158.45 123.24,158.69 123.49,158.95 123.74,159.22 123.99,159.48 124.24,159.73 124.49,159.96 124.74,160.16 124.99,160.33 125.24,160.48 125.48,160.62 125.73,160.76 125.98,160.88 126.23,160.99 126.48,161.08 126.73,161.17 126.98,161.24 127.23,161.32 127.48,161.39 127.73,161.46 127.98,161.52 128.23,161.57 128.48,161.59 128.73,161.6 128.98,161.59 129.22,161.54 129.47,161.47 129.72,161.38 129.97,161.27 130.22,161.15 130.47,161.02 130.72,160.89 130.97,160.77 131.22,160.64 131.47,160.51 131.72,160.37 131.97,160.22 132.22,160.06 132.47,159.9 132.72,159.72 132.96,159.55 133.21,159.37 133.46,159.18 133.71,158.98 133.96,158.76 134.21,158.54 134.46,158.31 134.71,158.09 134.96,157.88 135.21,157.68 135.46,157.52 135.71,157.38 135.96,157.23 136.21,157.08 136.46,156.94 136.7,156.81 136.95,156.71 137.2,156.64 137.45,156.6 137.7,156.61 137.95,156.71 138.2,156.87 138.45,157.09 138.7,157.34 138.95,157.61 139.2,157.89 139.45,158.17 139.7,158.49 139.95,158.85 140.2,159.24 140.44,159.66 140.69,160.08 140.94,160.5 141.19,160.89 141.44,161.28 141.69,161.69 141.94,162.11 142.19,162.54 142.44,162.96 142.69,163.39 142.94,163.8 143.19,164.15 143.44,164.49 143.69,164.83 143.93,165.17 144.18,165.51 144.43,165.83 144.68,166.14 144.93,166.42 145.18,166.68 145.43,166.92 145.68,167.13 145.93,167.34 146.18,167.53 146.43,167.74 146.68,167.96 146.93,168.19 147.18,168.4 147.43,168.62 147.67,168.83 147.92,169.05 148.17,169.27 148.42,169.5 148.67,169.73 148.92,169.95 149.17,170.17 149.42,170.37 149.67,170.57 149.92,170.75 150.17,170.91 150.42,171.06 150.67,171.18 150.92,171.3 151.17,171.4 151.41,171.5 151.66,171.59 151.91,171.67 152.16,171.75 152.41,171.82 152.66,171.89 152.91,171.96 153.16,172.02 153.41,172.09 153.66,172.15 153.91,172.22 154.16,172.28 154.41,172.34 154.66,172.4 154.91,172.45 155.15,172.51 155.4,172.56 155.65,172.61 155.9,172.66 156.15,172.7 156.4,172.75 156.65,172.79 156.9,172.82 156.9,181.85 156.65,181.85 156.4,181.85 156.15,181.85 155.9,181.85 155.65,181.85 155.4,181.85 155.15,181.85 154.91,181.85 154.66,181.85 154.41,181.85 154.16,181.85 153.91,181.85 153.66,181.85 153.41,181.85 153.16,181.85 152.91,181.85 152.66,181.85 152.41,181.85 152.16,181.85 151.91,181.85 151.66,181.85 151.41,181.85 151.17,181.85 150.92,181.85 150.67,181.85 150.42,181.85 150.17,181.85 149.92,181.85 149.67,181.85 149.42,181.85 149.17,181.85 148.92,181.85 148.67,181.85 148.42,181.85 148.17,181.85 147.92,181.85 147.67,181.85 147.43,181.85 147.18,181.85 146.93,181.85 146.68,181.85 146.43,181.85 146.18,181.85 145.93,181.85 145.68,181.85 145.43,181.85 145.18,181.46 144.93,180.49 144.68,179.48 144.43,178.46 144.18,177.42 143.93,176.36 143.69,175.3 143.44,174.24 143.19,173.19 142.94,172.18 142.69,171.29 142.44,170.4 142.19,169.5 141.94,168.6 141.69,167.7 141.44,166.82 141.19,165.95 140.94,165.21 140.69,164.79 140.44,164.37 140.2,163.97 139.95,163.58 139.7,163.23 139.45,162.91 139.2,162.64 138.95,162.37 138.7,162.11 138.45,161.86 138.2,161.65 137.95,161.5 137.7,161.41 137.45,161.45 137.2,161.56 136.95,161.71 136.7,161.9 136.46,162.1 136.21,162.32 135.96,162.55 135.71,162.78 135.46,163 135.21,163.24 134.96,163.51 134.71,163.8 134.46,164.11 134.21,164.41 133.96,164.72 133.71,165.01 133.46,165.28 133.21,165.52 132.96,165.75 132.72,165.97 132.47,166.19 132.22,166.41 131.97,166.61 131.72,166.81 131.47,167 131.22,167.18 130.97,167.35 130.72,167.52 130.47,167.7 130.22,167.87 129.97,168.04 129.72,168.2 129.47,168.34 129.22,168.46 128.98,168.55 128.73,168.59 128.48,168.53 128.23,168.46 127.98,168.36 127.73,168.26 127.48,168.14 127.23,168.02 126.98,167.89 126.73,167.77 126.48,167.64 126.23,167.5 125.98,167.34 125.73,167.17 125.48,166.99 125.24,166.8 124.99,166.6 124.74,166.38 124.49,166.13 124.24,165.85 123.99,165.56 123.74,165.25 123.49,164.94 123.24,164.63 122.99,164.34 122.74,164.06 122.49,163.78 122.24,163.5 121.99,163.22 121.74,162.89 121.5,162.54 121.25,162.18 121,161.82 120.75,161.44 120.5,161.06 120.25,160.66 120,160.24 119.75,159.81 119.5,159.35 119.25,158.85 119,158.33 118.75,157.78 118.5,157.22 118.25,156.65 118,156.07 117.76,155.45 117.51,154.79 117.26,154.07 117.01,153.22 116.76,152.35 116.51,151.46 116.26,150.6 116.01,149.74 115.76,148.88 115.51,147.99 115.26,147.05 115.01,146.09 114.76,145.21 114.51,144.39 114.27,143.65 114.02,142.99 113.77,142.36 113.52,141.85 113.27,141.52 113.02,141.25 112.77,141.08 112.52,141.1 112.27,141.43 112.02,141.9 111.77,142.37 111.52,142.92 111.27,143.54 111.02,144.22 110.77,145.01 110.53,145.85 110.28,146.65 110.03,147.39 109.78,148.11 109.53,148.81 109.28,149.46 109.03,150.11 108.78,150.72 108.53,151.31 108.28,151.85 108.03,152.35 107.78,152.84 107.53,153.3 107.28,153.76 107.03,154.21 106.79,154.66 106.54,155.1 106.29,155.54 106.04,155.96 105.79,156.37 105.54,156.78 105.29,157.17 105.04,157.56 104.79,157.94 104.54,158.3 104.29,158.66 104.04,159 103.79,159.32 103.54,159.63 103.29,159.94 103.05,160.24 102.8,160.55 102.55,160.85 102.3,161.16 102.05,161.47 101.8,161.78 101.55,162.09 101.3,162.4" fill="#8c8c8c"/>
<polyline points="17.1,178.4 17.35,178.27 17.6,178.13 17.85,177.99 18.1,177.84 18.35,177.7 18.6,177.55 18.85,177.39 19.1,177.24 19.35,177.08 19.6,176.91 19.85,176.74 20.1,176.56 20.35,176.39 20.6,176.21 20.85,176.04 21.1,175.87 21.35,175.7 21.6,175.54 21.85,175.38 22.1,175.22 22.35,175.05 22.6,174.89 22.85,174.72 23.1,174.55 23.35,174.36 23.6,174.17 23.85,173.98 24.1,173.77 24.35,173.57 24.6,173.35 24.85,173.13 25.1,172.89 25.35,172.65 25.6,172.4 25.85,172.14 26.1,171.86 26.35,171.58 26.6,171.29 26.85,170.99 27.1,170.68 27.35,170.36 27.6,170.04 27.85,169.7 28.1,169.36 28.35,169 28.6,168.61 28.85,168.21 29.1,167.8 29.35,167.38 29.6,166.96 29.85,166.54 30.1,166.13 30.35,165.73 30.6,165.35 30.85,164.97 31.1,164.58 31.35,164.2 31.6,163.82 31.85,163.45 32.1,163.08 32.35,162.72 32.6,162.38 32.85,162.05 33.1,161.74 33.35,161.44 33.6,161.14 33.85,160.82 34.1,160.49 34.35,160.17 34.6,159.86 34.85,159.58 35.1,159.32 35.35,159.11 35.6,158.94 35.85,158.84 36.1,158.8 36.35,158.82 36.6,158.89 36.85,159 37.1,159.13 37.35,159.28 37.6,159.44 37.85,159.6 38.1,159.77 38.35,159.97 38.6,160.2 38.85,160.45 39.1,160.71 39.35,160.97 39.6,161.21 39.85,161.43 40.1,161.66 40.35,161.88 40.6,162.1 40.85,162.32 41.1,162.54 41.35,162.75 41.6,162.95 41.85,163.15 42.1,163.33 42.35,163.5 42.6,163.66 42.85,163.83 43.1,164 43.35,164.17 43.6,164.33 43.85,164.5 44.1,164.66 44.35,164.8 44.6,164.94 44.85,165.05 45.1,165.15 45.35,165.23 45.6,165.28 45.85,165.3 46.1,165.29 46.35,165.27 46.6,165.23 46.85,165.18 47.1,165.11 47.35,165.03 47.6,164.95 47.85,164.86 48.1,164.76 48.35,164.61 48.6,164.4 48.85,164.15 49.1,163.87 49.35,163.56 49.6,163.24 49.85,162.91 50.1,162.59 50.35,162.28 50.6,161.99 50.85,161.7 51.1,161.43 51.35,161.15 51.6,160.86 51.85,160.57 52.1,160.26 52.35,159.93 52.6,159.59 52.85,159.22 53.1,158.83 53.35,158.42 53.6,157.98 53.85,157.52 54.1,157.03 54.35,156.52 54.6,155.99 54.85,155.43 55.1,154.84 55.35,154.22 55.6,153.53 55.85,152.78 56.1,151.98 56.35,151.16 56.6,150.32 56.85,149.49 57.1,148.67 57.35,147.82 57.6,146.95 57.85,146.08 58.1,145.24 58.35,144.45 58.6,143.7 58.85,142.94 59.1,142.2 59.35,141.53 59.6,140.96 59.85,140.52 60.1,140.14 60.35,139.78 60.6,139.48 60.85,139.28 61.1,139.2 61.35,139.3 61.6,139.58 61.85,139.97 62.1,140.42 62.35,140.92 62.6,141.61 62.85,142.45 63.1,143.38 63.35,144.32 63.6,145.2 63.85,146.06 64.1,146.94 64.35,147.83 64.6,148.68 64.85,149.47 65.1,150.17 65.35,150.84 65.6,151.5 65.85,152.12 66.1,152.72 66.35,153.29 66.6,153.82 66.85,154.32 67.1,154.77 67.35,155.18 67.6,155.56 67.85,155.92 68.1,156.26 68.35,156.59 68.6,156.89 68.85,157.19 69.1,157.46 69.35,157.72 69.6,157.96 69.85,158.19 70.1,158.4 70.35,158.6 70.6,158.79 70.85,158.97 71.1,159.14 71.35,159.31 71.6,159.47 71.85,159.61 72.1,159.76 72.35,159.89 72.6,160.01 72.85,160.13 73.1,160.24 73.35,160.35 73.6,160.44 73.85,160.52 74.1,160.6 74.1,191.85 80.14,201.6 80.24,199.95 80.33,198.29 80.43,196.64 80.52,194.98 80.62,193.33 80.72,191.67 80.81,190.02 80.91,188.37 81,186.71 81.1,185.06 81.2,183.4 81.29,181.75 81.39,180.09 81.48,178.44 81.58,176.79 81.67,175.13 81.76,173.48 81.86,171.82 81.95,170.17 82.04,168.52 82.13,166.86 82.23,165.21 82.32,163.55 82.41,161.9 82.51,160.24 82.6,158.59 82.7,156.94 82.79,155.28 82.89,153.63 82.99,151.97 83.09,150.32 83.19,148.66 83.29,147.01 83.4,145.36 83.5,143.7 83.61,142.05 83.72,140.39 83.83,138.74 83.94,137.08 84.06,135.43 84.18,133.78 84.29,132.12 84.41,130.47 84.53,128.81 84.65,127.16 84.77,125.51 84.89,123.85 85.01,122.2 85.12,120.54 85.22,118.89 85.32,117.23 85.43,115.58 85.54,113.93 85.66,112.27 85.81,110.62 85.97,108.96 86.16,107.31 86.44,105.65 87.05,104 87.66,105.65 87.94,107.31 88.13,108.96 88.29,110.62 88.44,112.27 88.56,113.93 88.67,115.58 88.78,117.23 88.88,118.89 88.98,120.54 89.09,122.2 89.21,123.85 89.33,125.51 89.45,127.16 89.57,128.81 89.69,130.47 89.81,132.12 89.92,133.78 90.04,135.43 90.16,137.08 90.27,138.74 90.38,140.39 90.49,142.05 90.6,143.7 90.7,145.36 90.81,147.01 90.91,148.66 91.01,150.32 91.11,151.97 91.21,153.63 91.31,155.28 91.4,156.94 91.5,158.59 91.59,160.24 91.69,161.9 91.78,163.55 91.87,165.21 91.97,166.86 92.06,168.52 92.15,170.17 92.24,171.82 92.34,173.48 92.43,175.13 92.52,176.79 92.62,178.44 92.71,180.09 92.81,181.75 92.9,183.4 93,185.06 93.1,186.71 93.19,188.37 93.29,190.02 93.38,191.67 93.48,193.33 93.58,194.98 93.67,196.64 93.77,198.29 93.86,199.95 93.96,201.6 101.3,191.85 101.3,160.4 101.55,160.11 101.8,159.82 102.05,159.53 102.3,159.24 102.55,158.95 102.8,158.66 103.05,158.37 103.29,158.09 103.54,157.8 103.79,157.51 104.04,157.2 104.29,156.88 104.54,156.54 104.79,156.2 105.04,155.84 105.29,155.47 105.54,155.09 105.79,154.71 106.04,154.31 106.29,153.91 106.54,153.49 106.79,153.07 107.03,152.64 107.28,152.21 107.53,151.77 107.78,151.32 108.03,150.85 108.28,150.34 108.53,149.79 108.78,149.2 109.03,148.57 109.28,147.92 109.53,147.25 109.78,146.56 110.03,145.83 110.28,145.07 110.53,144.27 110.77,143.41 111.02,142.62 111.27,141.93 111.52,141.3 111.77,140.75 112.02,140.27 112.27,139.79 112.52,139.45 112.77,139.42 113.02,139.58 113.27,139.85 113.52,140.17 113.77,140.67 114.02,141.29 114.27,141.94 114.51,142.68 114.76,143.48 115.01,144.36 115.26,145.31 115.51,146.24 115.76,147.12 116.01,147.98 116.26,148.82 116.51,149.68 116.76,150.56 117.01,151.42 117.26,152.18 117.51,152.82 117.76,153.4 118,153.93 118.25,154.42 118.5,154.91 118.75,155.38 119,155.84 119.25,156.28 119.5,156.7 119.75,157.07 120,157.42 120.25,157.76 120.5,158.07 120.75,158.37 121,158.66 121.25,158.94 121.5,159.21 121.74,159.47 121.99,159.72 122.24,159.96 122.49,160.2 122.74,160.45 122.99,160.69 123.24,160.95 123.49,161.22 123.74,161.49 123.99,161.77 124.24,162.03 124.49,162.27 124.74,162.48 124.99,162.66 125.24,162.82 125.48,162.98 125.73,163.12 125.98,163.25 126.23,163.37 126.48,163.48 126.73,163.58 126.98,163.66 127.23,163.75 127.48,163.83 127.73,163.91 127.98,163.98 128.23,164.04 128.48,164.08 128.73,164.1 128.98,164.09 129.22,164.05 129.47,163.99 129.72,163.9 129.97,163.79 130.22,163.68 130.47,163.56 130.72,163.43 130.97,163.31 131.22,163.2 131.47,163.07 131.72,162.93 131.97,162.79 132.22,162.63 132.47,162.47 132.72,162.31 132.96,162.14 133.21,161.96 133.46,161.78 133.71,161.57 133.96,161.34 134.21,161.1 134.46,160.86 134.71,160.63 134.96,160.4 135.21,160.2 135.46,160.03 135.71,159.87 135.96,159.71 136.21,159.55 136.46,159.39 136.7,159.26 136.95,159.14 137.2,159.06 137.45,159.01 137.7,159.01 137.95,159.09 138.2,159.23 138.45,159.44 138.7,159.67 138.95,159.93 139.2,160.2 139.45,160.46 139.7,160.76 139.95,161.11 140.2,161.49 140.44,161.89 140.69,162.3 140.94,162.71 141.19,163.12 141.44,163.55 141.69,163.99 141.94,164.45 142.19,164.92 142.44,165.38 142.69,165.84 142.94,166.29 143.19,166.73 143.44,167.19 143.69,167.64 143.93,168.1 144.18,168.55 144.43,168.98 144.68,169.4 144.93,169.8 145.18,170.17 145.43,170.52 145.68,170.85 145.93,171.17 146.18,171.47 146.43,171.77 146.68,172.05 146.93,172.33 147.18,172.61 147.43,172.89 147.67,173.16 147.92,173.44 148.17,173.72 148.42,174.01 148.67,174.29 148.92,174.57 149.17,174.85 149.42,175.12 149.67,175.37 149.92,175.61 150.17,175.84 150.42,176.04 150.67,176.22 150.92,176.39 151.17,176.55 151.41,176.71 151.66,176.86 151.91,177 152.16,177.13 152.41,177.26 152.66,177.39 152.91,177.51 153.16,177.64 153.41,177.76 153.66,177.88 153.91,178 154.16,178.12 154.41,178.24 154.66,178.36 154.91,178.47 155.15,178.58 155.4,178.69 155.65,178.8 155.9,178.9 156.15,179.01 156.4,179.11 156.65,179.21 156.9,179.3" fill="none" stroke="#000c5c" stroke-width="1.7" stroke-linejoin="round"/>
</g>
<line x1="16.3" y1="181.85" x2="157.5" y2="181.85" stroke="#000" stroke-width="1.1"/>
<line x1="16.9" y1="181.85" x2="16.9" y2="187.05" stroke="#000" stroke-width="1.15"/>
<line x1="34.4" y1="181.85" x2="34.4" y2="184.85" stroke="#000" stroke-width="1.15"/>
<line x1="51.9" y1="181.85" x2="51.9" y2="187.05" stroke="#000" stroke-width="1.15"/>
<line x1="69.4" y1="181.85" x2="69.4" y2="184.85" stroke="#000" stroke-width="1.15"/>
<line x1="86.9" y1="181.85" x2="86.9" y2="187.05" stroke="#000" stroke-width="1.15"/>
<line x1="104.4" y1="181.85" x2="104.4" y2="184.85" stroke="#000" stroke-width="1.15"/>
<line x1="121.9" y1="181.85" x2="121.9" y2="187.05" stroke="#000" stroke-width="1.15"/>
<line x1="139.4" y1="181.85" x2="139.4" y2="184.85" stroke="#000" stroke-width="1.15"/>
<line x1="156.9" y1="181.85" x2="156.9" y2="187.05" stroke="#000" stroke-width="1.15"/>
<g clip-path="url(#ca2)">
<polygon points="17.2,267 17.45,266.99 17.7,266.97 17.95,266.95 18.2,266.92 18.45,266.89 18.7,266.86 18.95,266.83 19.2,266.79 19.45,266.75 19.7,266.71 19.95,266.67 20.2,266.63 20.45,266.58 20.7,266.53 20.95,266.47 21.2,266.41 21.45,266.34 21.7,266.27 21.95,266.2 22.2,266.13 22.45,266.05 22.7,265.96 22.95,265.86 23.2,265.76 23.44,265.66 23.69,265.56 23.94,265.45 24.19,265.34 24.44,265.23 24.69,265.11 24.94,264.98 25.19,264.86 25.44,264.72 25.69,264.58 25.94,264.44 26.19,264.29 26.44,264.13 26.69,263.96 26.94,263.79 27.19,263.61 27.44,263.43 27.69,263.24 27.94,263.05 28.19,262.85 28.44,262.64 28.69,262.43 28.94,262.2 29.19,261.98 29.44,261.74 29.69,261.51 29.94,261.3 30.19,261.08 30.44,260.85 30.69,260.62 30.94,260.38 31.19,260.14 31.44,259.89 31.69,259.63 31.94,259.36 32.19,259.07 32.44,258.75 32.69,258.42 32.94,258.08 33.19,257.71 33.44,257.34 33.69,256.96 33.94,256.59 34.19,256.23 34.44,255.88 34.69,255.54 34.94,255.23 35.19,254.92 35.44,254.61 35.68,254.28 35.93,253.96 36.18,253.65 36.43,253.35 36.68,253.09 36.93,252.87 37.18,252.7 37.43,252.58 37.68,252.49 37.93,252.41 38.18,252.34 38.43,252.27 38.68,252.23 38.93,252.2 39.18,252.2 39.43,252.2 39.68,252.23 39.93,252.29 40.18,252.36 40.43,252.46 40.68,252.57 40.93,252.69 41.18,252.81 41.43,252.92 41.68,253.04 41.93,253.17 42.18,253.31 42.43,253.48 42.68,253.65 42.93,253.83 43.18,254.01 43.43,254.19 43.68,254.36 43.93,254.52 44.18,254.68 44.43,254.81 44.68,254.95 44.93,255.09 45.18,255.23 45.43,255.38 45.68,255.52 45.93,255.65 46.18,255.78 46.43,255.89 46.68,255.99 46.93,256.08 47.18,256.14 47.43,256.18 47.68,256.2 47.92,256.23 48.17,256.22 48.42,256.19 48.67,256.13 48.92,256.06 49.17,255.97 49.42,255.87 49.67,255.74 49.92,255.51 50.17,255.23 50.42,254.92 50.67,254.63 50.92,254.38 51.17,254.17 51.42,253.99 51.67,253.82 51.92,253.66 52.17,253.53 52.42,253.39 52.67,253.24 52.92,253.07 53.17,252.86 53.42,252.6 53.67,252.29 53.92,251.91 54.17,251.48 54.42,251 54.67,250.49 54.92,249.95 55.17,249.36 55.42,248.75 55.67,248.13 55.92,247.46 56.17,246.74 56.42,245.98 56.67,245.19 56.92,244.38 57.17,243.57 57.42,242.78 57.67,241.99 57.92,241.17 58.17,240.32 58.42,239.46 58.67,238.63 58.92,237.85 59.17,237.07 59.42,236.28 59.67,235.55 59.92,234.94 60.16,234.5 60.41,234.13 60.66,233.8 60.91,233.54 61.16,233.41 61.41,233.45 61.66,233.7 61.91,234.11 62.16,234.6 62.41,235.13 62.66,235.78 62.91,236.63 63.16,237.58 63.41,238.58 63.66,239.54 63.91,240.55 64.16,241.61 64.41,242.69 64.66,243.71 64.91,244.61 65.16,245.39 65.41,246.13 65.66,246.84 65.91,247.51 66.16,248.15 66.41,248.75 66.66,249.3 66.91,249.81 67.16,250.27 67.41,250.67 67.66,251.06 67.91,251.43 68.16,251.78 68.41,252.11 68.66,252.42 68.91,252.71 69.16,252.98 69.41,253.23 69.66,253.46 69.91,253.66 70.16,253.84 70.41,254 70.66,254.16 70.91,254.31 71.16,254.45 71.41,254.58 71.66,254.7 71.91,254.81 72.16,254.91 72.4,255.01 72.65,255.09 72.9,255.17 73.15,255.24 73.4,255.32 73.65,255.39 73.9,255.45 74.15,255.49 74.4,255.5 74.65,255.47 74.9,255.4 75.15,255.28 75.4,255.14 75.65,254.96 75.9,254.59 76.15,254.01 76.4,253.3 76.65,252.45 76.9,251.26 77.15,249.87 77.4,248.38 77.65,246.6 77.9,244.78 78.15,243.22 78.4,242 78.4,245.5 78.15,246.75 77.9,248.33 77.65,250.19 77.4,251.99 77.15,253.51 76.9,254.93 76.65,256.15 76.4,257.03 76.15,257.77 75.9,258.37 75.65,258.77 75.4,258.98 75.15,259.15 74.9,259.3 74.65,259.4 74.4,259.45 74.15,259.47 73.9,259.44 73.65,259.36 73.4,259.27 73.15,259.17 72.9,259.08 72.65,258.98 72.4,258.87 72.16,258.76 71.91,258.63 71.66,258.5 71.41,258.36 71.16,258.21 70.91,258.05 70.66,257.88 70.41,257.7 70.16,257.52 69.91,257.32 69.66,257.1 69.41,256.85 69.16,256.58 68.91,256.29 68.66,255.98 68.41,255.64 68.16,255.29 67.91,254.92 67.66,254.54 67.41,254.14 67.16,253.72 66.91,253.25 66.66,252.73 66.41,252.17 66.16,251.56 65.91,250.91 65.66,250.22 65.41,249.5 65.16,248.75 64.91,247.96 64.66,247.04 64.41,246.01 64.16,244.92 63.91,243.84 63.66,242.82 63.41,241.85 63.16,240.84 62.91,239.87 62.66,239.01 62.41,238.35 62.16,237.81 61.91,237.3 61.66,236.89 61.41,236.62 61.16,236.57 60.91,236.69 60.66,236.93 60.41,237.25 60.16,237.61 59.92,238.03 59.67,238.63 59.42,239.35 59.17,240.13 58.92,240.9 58.67,241.67 58.42,242.48 58.17,243.33 57.92,244.21 57.67,245.15 57.42,246.07 57.17,246.99 56.92,247.92 56.67,248.85 56.42,249.77 56.17,250.66 55.92,251.5 55.67,252.29 55.42,253.04 55.17,253.78 54.92,254.5 54.67,255.21 54.42,255.89 54.17,256.53 53.92,257.13 53.67,257.67 53.42,258.16 53.17,258.58 52.92,258.95 52.67,259.3 52.42,259.61 52.17,259.91 51.92,260.2 51.67,260.47 51.42,260.76 51.17,261.05 50.92,261.38 50.67,261.74 50.42,262.16 50.17,262.58 49.92,262.98 49.67,263.32 49.42,263.56 49.17,263.78 48.92,263.99 48.67,264.18 48.42,264.35 48.17,264.5 47.92,264.62 47.68,264.7 47.43,264.67 47.18,264.61 46.93,264.54 46.68,264.44 46.43,264.32 46.18,264.2 45.93,264.06 45.68,263.91 45.43,263.76 45.18,263.6 44.93,263.44 44.68,263.29 44.43,263.14 44.18,262.98 43.93,262.81 43.68,262.62 43.43,262.43 43.18,262.22 42.93,262.01 42.68,261.81 42.43,261.61 42.18,261.42 41.93,261.25 41.68,261.09 41.43,260.95 41.18,260.81 40.93,260.66 40.68,260.52 40.43,260.38 40.18,260.26 39.93,260.16 39.68,260.08 39.43,260.02 39.18,260.01 38.93,260.05 38.68,260.11 38.43,260.19 38.18,260.29 37.93,260.4 37.68,260.51 37.43,260.64 37.18,260.79 36.93,261 36.68,261.25 36.43,261.55 36.18,261.88 35.93,262.22 35.68,262.59 35.44,262.97 35.19,263.36 34.94,263.72 34.69,264.1 34.44,264.5 34.19,264.92 33.94,265.35 33.69,265.79 33.44,266.23 33.19,266.67 32.94,267.13 32.69,267.65 32.44,268.17 32.19,268.67 31.94,269.14 31.69,269.6 31.44,270.04 31.19,270.47 30.94,270.9 30.69,271.32 30.44,271.74 30.19,272.15 29.94,272.55 29.69,272.94 29.44,273.33 29.19,273.7 28.94,274.07 28.69,274.43 28.44,274.78 28.19,275.13 27.94,275.47 27.69,275.8 27.44,276.13 27.19,276.45 26.94,276.77 26.69,277.08 26.44,277.38 26.19,277.68 25.94,277.97 25.69,278.25 25.44,278.52 25.19,278.79 24.94,279.05 24.69,279.31 24.44,279.57 24.19,279.82 23.94,280.06 23.69,280.31 23.44,280.54 23.2,280.78 22.95,281.01 22.7,281.24 22.45,281.47 22.2,282.02 21.95,282.6 21.7,282.6 21.45,282.6 21.2,282.6 20.95,282.6 20.7,282.6 20.45,282.6 20.2,282.6 19.95,282.6 19.7,282.6 19.45,282.6 19.2,282.6 18.95,282.6 18.7,282.6 18.45,282.6 18.2,282.6 17.95,282.6 17.7,282.6 17.45,282.6 17.2,282.6" fill="#8c8c8c"/>
<polygon points="96.6,250.4 96.85,251.48 97.1,252.42 97.35,253.06 97.6,253.54 97.85,253.96 98.1,254.32 98.35,254.6 98.6,254.8 98.85,254.92 99.1,255.02 99.35,255.11 99.6,255.18 99.85,255.24 100.1,255.27 100.35,255.29 100.6,255.27 100.85,255.21 101.1,255.09 101.35,254.94 101.6,254.77 101.85,254.6 102.1,254.45 102.35,254.3 102.6,254.13 102.84,253.95 103.09,253.75 103.34,253.55 103.59,253.34 103.84,253.11 104.09,252.87 104.34,252.61 104.59,252.33 104.84,252.03 105.09,251.7 105.34,251.34 105.59,250.94 105.84,250.53 106.09,250.09 106.34,249.62 106.59,249.13 106.84,248.6 107.09,248.04 107.34,247.45 107.59,246.81 107.84,246.12 108.09,245.4 108.34,244.67 108.59,243.96 108.84,243.24 109.09,242.51 109.34,241.78 109.59,241.04 109.84,240.29 110.09,239.54 110.34,238.78 110.59,238.01 110.84,237.25 111.09,236.57 111.34,235.94 111.59,235.4 111.84,234.98 112.09,234.57 112.34,234.21 112.59,233.94 112.84,233.81 113.09,233.85 113.34,234.05 113.59,234.37 113.84,234.75 114.09,235.18 114.34,235.72 114.59,236.44 114.83,237.2 115.08,237.99 115.33,238.83 115.58,239.69 115.83,240.57 116.08,241.45 116.33,242.27 116.58,243.09 116.83,243.96 117.08,245 117.33,246.21 117.58,247.32 117.83,248.25 118.08,249.09 118.33,249.73 118.58,250.23 118.83,250.63 119.08,250.99 119.33,251.32 119.58,251.65 119.83,251.95 120.08,252.23 120.33,252.49 120.58,252.74 120.83,252.97 121.08,253.19 121.33,253.41 121.58,253.61 121.83,253.82 122.08,254.02 122.33,254.21 122.58,254.4 122.83,254.56 123.08,254.71 123.33,254.86 123.58,255.01 123.83,255.17 124.08,255.32 124.33,255.45 124.58,255.56 124.83,255.65 125.08,255.7 125.33,255.72 125.58,255.72 125.83,255.77 126.08,255.83 126.33,255.88 126.58,255.93 126.83,255.97 127.07,256.01 127.32,256.04 127.57,256.03 127.82,256 128.07,255.95 128.32,255.88 128.57,255.81 128.82,255.73 129.07,255.65 129.32,255.55 129.57,255.43 129.82,255.29 130.07,255.14 130.32,254.97 130.57,254.8 130.82,254.62 131.07,254.44 131.32,254.27 131.57,254.1 131.82,253.94 132.07,253.79 132.32,253.64 132.57,253.47 132.82,253.29 133.07,253.11 133.32,252.93 133.57,252.76 133.82,252.61 134.07,252.48 134.32,252.38 134.57,252.32 134.82,252.3 135.07,252.29 135.32,252.32 135.57,252.37 135.82,252.46 136.07,252.57 136.32,252.71 136.57,252.86 136.82,253.02 137.07,253.2 137.32,253.38 137.57,253.66 137.82,254.01 138.07,254.42 138.32,254.87 138.57,255.33 138.82,255.81 139.07,256.27 139.31,256.72 139.56,257.11 139.81,257.48 140.06,257.85 140.31,258.24 140.56,258.63 140.81,259.01 141.06,259.38 141.31,259.74 141.56,260.09 141.81,260.41 142.06,260.72 142.31,261.01 142.56,261.26 142.81,261.49 143.06,261.71 143.31,261.92 143.56,262.12 143.81,262.32 144.06,262.5 144.31,262.68 144.56,262.86 144.81,263.03 145.06,263.19 145.31,263.36 145.56,263.53 145.81,263.69 146.06,263.86 146.31,264.06 146.56,264.25 146.81,264.45 147.06,264.64 147.31,264.83 147.56,265.01 147.81,265.17 148.06,265.32 148.31,265.44 148.56,265.56 148.81,265.67 149.06,265.77 149.31,265.86 149.56,265.95 149.81,266.04 150.06,266.11 150.31,266.17 150.56,266.23 150.81,266.27 151.06,266.32 151.3,266.36 151.55,266.4 151.8,266.43 152.05,266.46 152.3,266.49 152.55,266.52 152.8,266.55 153.05,266.58 153.3,266.6 153.55,266.63 153.8,266.65 154.05,266.68 154.3,266.7 154.55,266.72 154.8,266.75 155.05,266.77 155.3,266.79 155.55,266.8 155.8,266.82 156.05,266.84 156.3,266.85 156.55,266.87 156.8,266.88 157.05,266.89 157.3,266.9 157.3,282.6 157.05,282.6 156.8,282.6 156.55,282.6 156.3,282.6 156.05,282.6 155.8,282.6 155.55,282.6 155.3,282.6 155.05,282.6 154.8,282.6 154.55,282.6 154.3,282.6 154.05,282.6 153.8,282.6 153.55,282.6 153.3,282.6 153.05,282.6 152.8,282.6 152.55,282.6 152.3,282.6 152.05,282.6 151.8,282.6 151.55,282.6 151.3,282.6 151.06,282.6 150.81,282.6 150.56,282.6 150.31,282.6 150.06,282.6 149.81,282.6 149.56,282.6 149.31,282.6 149.06,282.6 148.81,282.6 148.56,282.46 148.31,282.21 148.06,281.95 147.81,281.67 147.56,281.37 147.31,281.05 147.06,280.73 146.81,280.4 146.56,280.06 146.31,279.73 146.06,279.4 145.81,279.01 145.56,278.6 145.31,278.19 145.06,277.78 144.81,277.37 144.56,276.96 144.31,276.54 144.06,276.12 143.81,275.69 143.56,275.25 143.31,274.81 143.06,274.36 142.81,273.89 142.56,273.42 142.31,272.93 142.06,272.41 141.81,271.88 141.56,271.32 141.31,270.74 141.06,270.16 140.81,269.55 140.56,268.94 140.31,268.33 140.06,267.71 139.81,266.99 139.56,266.24 139.31,265.45 139.07,264.62 138.82,263.76 138.57,262.9 138.32,262.05 138.07,261.4 137.82,260.96 137.57,260.58 137.32,260.28 137.07,260.06 136.82,259.86 136.57,259.66 136.32,259.48 136.07,259.32 135.82,259.17 135.57,259.05 135.32,258.97 135.07,258.91 134.82,258.91 134.57,258.97 134.32,259.07 134.07,259.22 133.82,259.39 133.57,259.58 133.32,259.79 133.07,260.01 132.82,260.23 132.57,260.45 132.32,260.66 132.07,260.85 131.82,261.04 131.57,261.24 131.32,261.45 131.07,261.67 130.82,261.89 130.57,262.1 130.32,262.32 130.07,262.53 129.82,262.73 129.57,262.92 129.32,263.1 129.07,263.26 128.82,263.39 128.57,263.52 128.32,263.65 128.07,263.78 127.82,263.89 127.57,263.97 127.32,264.03 127.07,264.06 126.83,264.08 126.58,264.09 126.33,264.1 126.08,264.1 125.83,264.1 125.58,264.1 125.33,264.04 125.08,263.92 124.83,263.76 124.58,263.57 124.33,263.35 124.08,263.11 123.83,262.86 123.58,262.6 123.33,262.34 123.08,262.09 122.83,261.84 122.58,261.56 122.33,261.28 122.08,260.98 121.83,260.67 121.58,260.36 121.33,260.05 121.08,259.72 120.83,259.36 120.58,258.98 120.33,258.58 120.08,258.16 119.83,257.72 119.58,257.27 119.33,256.79 119.08,256.3 118.83,255.79 118.58,255.23 118.33,254.58 118.08,253.78 117.83,252.79 117.58,251.7 117.33,250.44 117.08,249.08 116.83,247.87 116.58,246.85 116.33,245.88 116.08,244.9 115.83,243.97 115.58,243.07 115.33,242.2 115.08,241.35 114.83,240.55 114.59,239.77 114.34,239.04 114.09,238.48 113.84,238.05 113.59,237.64 113.34,237.32 113.09,237.1 112.84,237.05 112.59,237.17 112.34,237.43 112.09,237.78 111.84,238.17 111.59,238.58 111.34,239.11 111.09,239.73 110.84,240.39 110.59,241.14 110.34,241.9 110.09,242.64 109.84,243.38 109.59,244.12 109.34,244.85 109.09,245.56 108.84,246.28 108.59,246.98 108.34,247.69 108.09,248.41 107.84,249.16 107.59,249.9 107.34,250.6 107.09,251.24 106.84,251.85 106.59,252.43 106.34,252.98 106.09,253.5 105.84,253.99 105.59,254.47 105.34,254.91 105.09,255.33 104.84,255.72 104.59,256.07 104.34,256.4 104.09,256.71 103.84,257.01 103.59,257.29 103.34,257.56 103.09,257.82 102.84,258.07 102.6,258.3 102.35,258.53 102.1,258.73 101.85,258.88 101.6,259.01 101.35,259.14 101.1,259.26 100.85,259.33 100.6,259.37 100.35,259.34 100.1,259.29 99.85,259.22 99.6,259.12 99.35,259.01 99.1,258.89 98.85,258.75 98.6,258.6 98.35,258.36 98.1,258.04 97.85,257.65 97.6,257.19 97.35,256.67 97.1,256 96.85,255.02 96.6,253.9" fill="#8c8c8c"/>
<polyline points="17.2,271.8 17.45,271.77 17.7,271.74 17.95,271.7 18.2,271.66 18.45,271.62 18.7,271.57 18.95,271.52 19.2,271.47 19.45,271.42 19.7,271.37 19.95,271.31 20.2,271.25 20.45,271.19 20.7,271.12 20.95,271.05 21.2,270.97 21.45,270.89 21.7,270.81 21.95,270.72 22.2,270.64 22.45,270.55 22.7,270.46 22.95,270.36 23.2,270.26 23.44,270.16 23.69,270.06 23.94,269.95 24.19,269.84 24.44,269.73 24.69,269.61 24.94,269.48 25.19,269.36 25.44,269.22 25.69,269.08 25.94,268.94 26.19,268.79 26.44,268.63 26.69,268.46 26.94,268.29 27.19,268.11 27.44,267.93 27.69,267.74 27.94,267.55 28.19,267.35 28.44,267.14 28.69,266.93 28.94,266.7 29.19,266.48 29.44,266.24 29.69,266 29.94,265.75 30.19,265.49 30.44,265.23 30.69,264.96 30.94,264.69 31.19,264.4 31.44,264.12 31.69,263.82 31.94,263.52 32.19,263.19 32.44,262.84 32.69,262.47 32.94,262.09 33.19,261.7 33.44,261.31 33.69,260.91 33.94,260.52 34.19,260.14 34.44,259.77 34.69,259.42 34.94,259.08 35.19,258.76 35.44,258.42 35.68,258.08 35.93,257.74 36.18,257.42 36.43,257.11 36.68,256.84 36.93,256.6 37.18,256.42 37.43,256.29 37.68,256.18 37.93,256.08 38.18,256 38.43,255.92 38.68,255.86 38.93,255.82 39.18,255.8 39.43,255.81 39.68,255.85 39.93,255.91 40.18,256 40.43,256.11 40.68,256.23 40.93,256.36 41.18,256.49 41.43,256.62 41.68,256.74 41.93,256.88 42.18,257.04 42.43,257.21 42.68,257.39 42.93,257.58 43.18,257.77 43.43,257.96 43.68,258.14 43.93,258.32 44.18,258.48 44.43,258.61 44.68,258.75 44.93,258.89 45.18,259.03 45.43,259.18 45.68,259.32 45.93,259.45 46.18,259.58 46.43,259.69 46.68,259.79 46.93,259.88 47.18,259.94 47.43,259.98 47.68,260 47.92,259.98 48.17,259.94 48.42,259.86 48.67,259.75 48.92,259.63 49.17,259.49 49.42,259.35 49.67,259.17 49.92,258.9 50.17,258.57 50.42,258.22 50.67,257.87 50.92,257.58 51.17,257.32 51.42,257.09 51.67,256.88 51.92,256.67 52.17,256.47 52.42,256.25 52.67,256.02 52.92,255.76 53.17,255.47 53.42,255.13 53.67,254.73 53.92,254.27 54.17,253.75 54.42,253.19 54.67,252.6 54.92,251.98 55.17,251.33 55.42,250.68 55.67,250.02 55.92,249.31 56.17,248.54 56.42,247.74 56.67,246.91 56.92,246.06 57.17,245.21 57.42,244.37 57.67,243.54 57.92,242.69 58.17,241.82 58.42,240.96 58.67,240.13 58.92,239.35 59.17,238.57 59.42,237.78 59.67,237.05 59.92,236.44 60.16,236 60.41,235.63 60.66,235.3 60.91,235.04 61.16,234.91 61.41,234.95 61.66,235.2 61.91,235.61 62.16,236.1 62.41,236.63 62.66,237.28 62.91,238.13 63.16,239.08 63.41,240.08 63.66,241.04 63.91,242.05 64.16,243.11 64.41,244.19 64.66,245.21 64.91,246.11 65.16,246.89 65.41,247.63 65.66,248.34 65.91,249.01 66.16,249.65 66.41,250.25 66.66,250.8 66.91,251.31 67.16,251.77 67.41,252.17 67.66,252.56 67.91,252.93 68.16,253.28 68.41,253.61 68.66,253.92 68.91,254.21 69.16,254.48 69.41,254.73 69.66,254.96 69.91,255.16 70.16,255.34 70.41,255.5 70.66,255.66 70.91,255.81 71.16,255.95 71.41,256.08 71.66,256.2 71.91,256.31 72.16,256.41 72.4,256.51 72.65,256.59 72.9,256.67 73.15,256.74 73.4,256.82 73.65,256.89 73.9,256.95 74.15,256.99 74.4,257 74.65,256.97 74.9,256.9 75.15,256.78 75.4,256.64 75.65,256.46 75.9,256.09 76.15,255.51 76.4,254.8 76.65,253.95 76.9,252.76 77.15,251.37 77.4,249.88 77.65,248.1 77.9,246.28 78.15,244.72 78.4,243.5 78.4,292.6 80.13,302.4 80.24,300.77 80.34,299.15 80.44,297.52 80.54,295.89 80.65,294.26 80.75,292.64 80.85,291.01 80.96,289.38 81.06,287.76 81.16,286.13 81.27,284.5 81.37,282.87 81.47,281.25 81.58,279.62 81.68,277.99 81.78,276.37 81.88,274.74 81.98,273.11 82.08,271.48 82.18,269.86 82.28,268.23 82.39,266.6 82.49,264.98 82.59,263.35 82.69,261.72 82.79,260.09 82.9,258.47 83,256.84 83.1,255.21 83.21,253.59 83.31,251.96 83.42,250.33 83.53,248.71 83.64,247.08 83.75,245.45 83.86,243.82 83.98,242.2 84.1,240.57 84.22,238.94 84.34,237.32 84.46,235.69 84.58,234.06 84.7,232.43 84.81,230.81 84.93,229.18 85.04,227.55 85.15,225.93 85.25,224.3 85.34,222.67 85.42,221.04 85.5,219.42 85.58,217.79 85.67,216.16 85.77,214.54 85.88,212.91 86.02,211.28 86.18,209.65 86.43,208.03 87,206.4 87.57,208.03 87.82,209.65 87.98,211.28 88.12,212.91 88.23,214.54 88.33,216.16 88.42,217.79 88.5,219.42 88.58,221.04 88.66,222.67 88.75,224.3 88.85,225.93 88.96,227.55 89.07,229.18 89.19,230.81 89.3,232.43 89.42,234.06 89.54,235.69 89.66,237.32 89.78,238.94 89.9,240.57 90.02,242.2 90.14,243.82 90.25,245.45 90.36,247.08 90.47,248.71 90.58,250.33 90.69,251.96 90.79,253.59 90.9,255.21 91,256.84 91.1,258.47 91.21,260.09 91.31,261.72 91.41,263.35 91.51,264.98 91.61,266.6 91.72,268.23 91.82,269.86 91.92,271.48 92.02,273.11 92.12,274.74 92.22,276.37 92.32,277.99 92.42,279.62 92.53,281.25 92.63,282.87 92.73,284.5 92.84,286.13 92.94,287.76 93.04,289.38 93.15,291.01 93.25,292.64 93.35,294.26 93.46,295.89 93.56,297.52 93.66,299.15 93.76,300.77 93.87,302.4 96.6,292.6 96.6,251.9 96.85,253 97.1,253.95 97.35,254.6 97.6,255.1 97.85,255.53 98.1,255.9 98.35,256.19 98.6,256.41 98.85,256.55 99.1,256.66 99.35,256.76 99.6,256.85 99.85,256.92 100.1,256.97 100.35,257 100.6,257 100.85,256.94 101.1,256.84 101.35,256.7 101.6,256.55 101.85,256.39 102.1,256.24 102.35,256.08 102.6,255.89 102.84,255.69 103.09,255.48 103.34,255.26 103.59,255.03 103.84,254.79 104.09,254.53 104.34,254.25 104.59,253.96 104.84,253.64 105.09,253.3 105.34,252.91 105.59,252.5 105.84,252.07 106.09,251.61 106.34,251.14 106.59,250.62 106.84,250.08 107.09,249.5 107.34,248.9 107.59,248.24 107.84,247.53 108.09,246.8 108.34,246.07 108.59,245.36 108.84,244.64 109.09,243.91 109.34,243.18 109.59,242.44 109.84,241.69 110.09,240.94 110.34,240.18 110.59,239.41 110.84,238.65 111.09,237.97 111.34,237.34 111.59,236.8 111.84,236.38 112.09,235.97 112.34,235.61 112.59,235.34 112.84,235.21 113.09,235.25 113.34,235.45 113.59,235.77 113.84,236.15 114.09,236.58 114.34,237.12 114.59,237.84 114.83,238.6 115.08,239.39 115.33,240.23 115.58,241.09 115.83,241.97 116.08,242.88 116.33,243.78 116.58,244.67 116.83,245.62 117.08,246.75 117.33,248.04 117.58,249.23 117.83,250.24 118.08,251.15 118.33,251.88 118.58,252.45 118.83,252.94 119.08,253.38 119.33,253.79 119.58,254.19 119.83,254.57 120.08,254.93 120.33,255.28 120.58,255.6 120.83,255.91 121.08,256.21 121.33,256.49 121.58,256.77 121.83,257.04 122.08,257.31 122.33,257.57 122.58,257.82 122.83,258.05 123.08,258.27 123.33,258.48 123.58,258.7 123.83,258.92 124.08,259.14 124.33,259.34 124.58,259.52 124.83,259.67 125.08,259.79 125.33,259.87 125.58,259.91 125.83,259.93 126.08,259.95 126.33,259.97 126.58,259.98 126.83,259.99 127.07,260 127.32,260 127.57,259.96 127.82,259.89 128.07,259.8 128.32,259.7 128.57,259.6 128.82,259.49 129.07,259.37 129.32,259.24 129.57,259.08 129.82,258.91 130.07,258.73 130.32,258.55 130.57,258.35 130.82,258.15 131.07,257.96 131.32,257.76 131.57,257.57 131.82,257.39 132.07,257.22 132.32,257.05 132.57,256.86 132.82,256.66 133.07,256.46 133.32,256.26 133.57,256.07 133.82,255.9 134.07,255.75 134.32,255.63 134.57,255.54 134.82,255.5 135.07,255.51 135.32,255.55 135.57,255.63 135.82,255.74 136.07,255.88 136.32,256.04 136.57,256.21 136.82,256.4 137.07,256.59 137.32,256.8 137.57,257.1 137.82,257.47 138.07,257.91 138.32,258.39 138.57,258.89 138.82,259.41 139.07,259.92 139.31,260.4 139.56,260.84 139.81,261.25 140.06,261.66 140.31,262.07 140.56,262.47 140.81,262.88 141.06,263.27 141.31,263.65 141.56,264.02 141.81,264.37 142.06,264.69 142.31,265 142.56,265.28 142.81,265.55 143.06,265.8 143.31,266.05 143.56,266.29 143.81,266.51 144.06,266.73 144.31,266.95 144.56,267.16 144.81,267.36 145.06,267.56 145.31,267.76 145.56,267.96 145.81,268.16 146.06,268.37 146.31,268.57 146.56,268.78 146.81,268.99 147.06,269.2 147.31,269.4 147.56,269.59 147.81,269.76 148.06,269.92 148.31,270.06 148.56,270.19 148.81,270.31 149.06,270.42 149.31,270.53 149.56,270.63 149.81,270.73 150.06,270.82 150.31,270.9 150.56,270.99 150.81,271.06 151.06,271.13 151.3,271.2 151.55,271.27 151.8,271.33 152.05,271.39 152.3,271.45 152.55,271.5 152.8,271.56 153.05,271.61 153.3,271.67 153.55,271.72 153.8,271.77 154.05,271.82 154.3,271.87 154.55,271.92 154.8,271.97 155.05,272.02 155.3,272.07 155.55,272.11 155.8,272.16 156.05,272.2 156.3,272.24 156.55,272.28 156.8,272.32 157.05,272.36 157.3,272.4" fill="none" stroke="#000c5c" stroke-width="1.7" stroke-linejoin="round"/>
</g>
<line x1="16.3" y1="282.6" x2="157.5" y2="282.6" stroke="#000" stroke-width="1.1"/>
<line x1="16.9" y1="282.6" x2="16.9" y2="287.8" stroke="#000" stroke-width="1.15"/>
<line x1="34.4" y1="282.6" x2="34.4" y2="285.6" stroke="#000" stroke-width="1.15"/>
<line x1="51.9" y1="282.6" x2="51.9" y2="287.8" stroke="#000" stroke-width="1.15"/>
<line x1="69.4" y1="282.6" x2="69.4" y2="285.6" stroke="#000" stroke-width="1.15"/>
<line x1="86.9" y1="282.6" x2="86.9" y2="287.8" stroke="#000" stroke-width="1.15"/>
<line x1="104.4" y1="282.6" x2="104.4" y2="285.6" stroke="#000" stroke-width="1.15"/>
<line x1="121.9" y1="282.6" x2="121.9" y2="287.8" stroke="#000" stroke-width="1.15"/>
<line x1="139.4" y1="282.6" x2="139.4" y2="285.6" stroke="#000" stroke-width="1.15"/>
<line x1="156.9" y1="282.6" x2="156.9" y2="287.8" stroke="#000" stroke-width="1.15"/>
<text x="10.2" y="9" font-size="12.9" text-anchor="start" font-weight="bold">a</text>
<text x="172.8" y="9" font-size="12.9" text-anchor="start" font-weight="bold">b</text>
<text x="337.6" y="9" font-size="12.9" text-anchor="start" font-weight="bold">c</text>
<text x="503.1" y="9" font-size="12.9" text-anchor="start" font-weight="bold">d</text>
<text x="9.3" y="40.8" font-size="12.2" text-anchor="middle" transform="rotate(-90 9.3 40.8)" textLength="17.2" lengthAdjust="spacingAndGlyphs">CM</text>
<text x="9.3" y="141.3" font-size="12.2" text-anchor="middle" transform="rotate(-90 9.3 141.3)" textLength="26" lengthAdjust="spacingAndGlyphs">DCM</text>
<text x="9.3" y="243" font-size="12.2" text-anchor="middle" transform="rotate(-90 9.3 243)" textLength="15.4" lengthAdjust="spacingAndGlyphs">CU</text>
<text x="17.2" y="301.9" font-size="12.4" text-anchor="middle" textLength="24" lengthAdjust="spacingAndGlyphs">−20</text>
<text x="52.2" y="301.9" font-size="12.4" text-anchor="middle" textLength="24" lengthAdjust="spacingAndGlyphs">−10</text>
<text x="86.9" y="301.9" font-size="12.4" text-anchor="middle" textLength="7.6" lengthAdjust="spacingAndGlyphs">0</text>
<text x="121.9" y="301.9" font-size="12.4" text-anchor="middle" textLength="14.6" lengthAdjust="spacingAndGlyphs">10</text>
<text x="156.9" y="301.9" font-size="12.4" text-anchor="middle" textLength="14.6" lengthAdjust="spacingAndGlyphs">20</text>
<text x="86.9" y="318.2" font-size="11.6" text-anchor="middle" textLength="57" lengthAdjust="spacingAndGlyphs">BFS (GHz)</text>
<line x1="179.3" y1="282.5" x2="320.8" y2="282.5" stroke="#000" stroke-width="1.1"/>
<line x1="191.85" y1="282.5" x2="191.85" y2="285.5" stroke="#000" stroke-width="1.15"/>
<line x1="210.2" y1="282.5" x2="210.2" y2="287.7" stroke="#000" stroke-width="1.15"/>
<line x1="228.55" y1="282.5" x2="228.55" y2="285.5" stroke="#000" stroke-width="1.15"/>
<line x1="246.9" y1="282.5" x2="246.9" y2="287.7" stroke="#000" stroke-width="1.15"/>
<line x1="265.25" y1="282.5" x2="265.25" y2="285.5" stroke="#000" stroke-width="1.15"/>
<line x1="283.6" y1="282.5" x2="283.6" y2="287.7" stroke="#000" stroke-width="1.15"/>
<line x1="301.95" y1="282.5" x2="301.95" y2="285.5" stroke="#000" stroke-width="1.15"/>
<line x1="320.3" y1="282.5" x2="320.3" y2="287.7" stroke="#000" stroke-width="1.15"/>
<text x="210.2" y="301.7" font-size="12.4" text-anchor="middle" textLength="14" lengthAdjust="spacingAndGlyphs">14</text>
<text x="246.9" y="301.7" font-size="12.4" text-anchor="middle" textLength="14" lengthAdjust="spacingAndGlyphs">15</text>
<text x="283.6" y="301.7" font-size="12.4" text-anchor="middle" textLength="14" lengthAdjust="spacingAndGlyphs">16</text>
<text x="320.3" y="301.7" font-size="12.4" text-anchor="middle" textLength="14" lengthAdjust="spacingAndGlyphs">17</text>
<text x="250" y="318.2" font-size="11.6" text-anchor="middle" textLength="57" lengthAdjust="spacingAndGlyphs">BFS (GHz)</text>
<line x1="248.3" y1="40.8" x2="259.25" y2="40.8" stroke="#828282" stroke-width="1.9"/>
<line x1="274.3" y1="40.8" x2="275.2" y2="40.8" stroke="#828282" stroke-width="1.9"/>
<line x1="248.3" y1="25.8" x2="248.3" y2="55.8" stroke="#828282" stroke-width="1.9"/>
<line x1="275.2" y1="25.8" x2="275.2" y2="55.8" stroke="#828282" stroke-width="1.9"/>
<rect x="259.25" y="12.6" width="15.05" height="56.4" fill="none" stroke="#828282" stroke-width="1.9"/>
<line x1="273.2" y1="12.6" x2="273.2" y2="69" stroke="#828282" stroke-width="1.9"/>
<circle cx="248.3" cy="40.4" r="3.5" fill="#000c5c"/>
<circle cx="254.6" cy="44.7" r="3.5" fill="#000c5c"/>
<circle cx="274.9" cy="26.2" r="3.5" fill="#000c5c"/>
<circle cx="274.3" cy="33.4" r="3.5" fill="#000c5c"/>
<circle cx="271.9" cy="40.4" r="3.5" fill="#000c5c"/>
<circle cx="272.8" cy="48" r="3.5" fill="#000c5c"/>
<line x1="223.3" y1="141.5" x2="227.6" y2="141.5" stroke="#828282" stroke-width="1.9"/>
<line x1="235" y1="141.5" x2="238" y2="141.5" stroke="#828282" stroke-width="1.9"/>
<line x1="223.3" y1="126.5" x2="223.3" y2="156.5" stroke="#828282" stroke-width="1.9"/>
<line x1="238" y1="126.5" x2="238" y2="156.5" stroke="#828282" stroke-width="1.9"/>
<rect x="227.6" y="113.3" width="7.4" height="56.4" fill="none" stroke="#828282" stroke-width="1.9"/>
<line x1="231.4" y1="113.3" x2="231.4" y2="169.7" stroke="#828282" stroke-width="1.9"/>
<circle cx="223.3" cy="141.1" r="3.5" fill="#000c5c"/>
<circle cx="228.1" cy="135.2" r="3.5" fill="#000c5c"/>
<circle cx="229.9" cy="144.8" r="3.5" fill="#000c5c"/>
<circle cx="234.7" cy="138.9" r="3.5" fill="#000c5c"/>
<circle cx="237.7" cy="132.3" r="3.5" fill="#000c5c"/>
<circle cx="233.6" cy="151.3" r="3.5" fill="#000c5c"/>
<line x1="184.3" y1="242" x2="185.9" y2="242" stroke="#828282" stroke-width="1.9"/>
<line x1="206.2" y1="242" x2="218.7" y2="242" stroke="#828282" stroke-width="1.9"/>
<line x1="184.3" y1="227" x2="184.3" y2="257" stroke="#828282" stroke-width="1.9"/>
<line x1="218.7" y1="227" x2="218.7" y2="257" stroke="#828282" stroke-width="1.9"/>
<rect x="185.9" y="213.8" width="20.3" height="56.4" fill="none" stroke="#828282" stroke-width="1.9"/>
<line x1="196.2" y1="213.8" x2="196.2" y2="270.2" stroke="#828282" stroke-width="1.9"/>
<circle cx="184.4" cy="242.1" r="3.5" fill="#000c5c"/>
<circle cx="184.4" cy="250.2" r="3.5" fill="#000c5c"/>
<circle cx="191.4" cy="244.7" r="3.5" fill="#000c5c"/>
<circle cx="200.8" cy="242.1" r="3.5" fill="#000c5c"/>
<circle cx="207.8" cy="244.7" r="3.5" fill="#000c5c"/>
<circle cx="218.7" cy="242.1" r="3.5" fill="#000c5c"/>
<polyline points="301.8,40.3 306.4,40.3 306.4,79.8" fill="none" stroke="#8a8a8a" stroke-width="1.1"/>
<polyline points="306.4,91.9 306.4,131.1 301.8,131.1" fill="none" stroke="#8a8a8a" stroke-width="1.1"/>
<polyline points="316.2,40.3 320.8,40.3 320.8,135.2" fill="none" stroke="#8a8a8a" stroke-width="1.1"/>
<polyline points="320.8,148 320.8,242.4 316.2,242.4" fill="none" stroke="#8a8a8a" stroke-width="1.1"/>
<polyline points="301.8,151.5 306.4,151.5 306.4,190.9" fill="none" stroke="#8a8a8a" stroke-width="1.1"/>
<polyline points="306.4,203 306.4,242.4 301.8,242.4" fill="none" stroke="#8a8a8a" stroke-width="1.1"/>
<line x1="343.2" y1="282.5" x2="484.6" y2="282.5" stroke="#000" stroke-width="1.1"/>
<line x1="368.55" y1="282.5" x2="368.55" y2="285.5" stroke="#000" stroke-width="1.15"/>
<line x1="401.6" y1="282.5" x2="401.6" y2="287.7" stroke="#000" stroke-width="1.15"/>
<line x1="434.65" y1="282.5" x2="434.65" y2="285.5" stroke="#000" stroke-width="1.15"/>
<line x1="467.7" y1="282.5" x2="467.7" y2="287.7" stroke="#000" stroke-width="1.15"/>
<text x="401.6" y="301.7" font-size="12.4" text-anchor="middle" textLength="17.6" lengthAdjust="spacingAndGlyphs">1.2</text>
<text x="467.7" y="301.7" font-size="12.4" text-anchor="middle" textLength="17.6" lengthAdjust="spacingAndGlyphs">1.4</text>
<text x="413.6" y="318.2" font-size="11.6" text-anchor="middle" textLength="61.5" lengthAdjust="spacingAndGlyphs">BLW (GHz)</text>
<line x1="379.2" y1="40.8" x2="385.8" y2="40.8" stroke="#828282" stroke-width="1.9"/>
<line x1="429.1" y1="40.8" x2="450.6" y2="40.8" stroke="#828282" stroke-width="1.9"/>
<line x1="379.2" y1="25.8" x2="379.2" y2="55.8" stroke="#828282" stroke-width="1.9"/>
<line x1="450.6" y1="25.8" x2="450.6" y2="55.8" stroke="#828282" stroke-width="1.9"/>
<rect x="385.8" y="12.6" width="43.3" height="56.4" fill="none" stroke="#828282" stroke-width="1.9"/>
<line x1="390.1" y1="12.6" x2="390.1" y2="69" stroke="#828282" stroke-width="1.9"/>
<circle cx="379.2" cy="40.4" r="3.5" fill="#000c5c"/>
<circle cx="388.6" cy="38.5" r="3.5" fill="#000c5c"/>
<circle cx="384.9" cy="44.8" r="3.5" fill="#000c5c"/>
<circle cx="391.9" cy="45.9" r="3.5" fill="#000c5c"/>
<circle cx="441.4" cy="40.4" r="3.5" fill="#000c5c"/>
<circle cx="450.6" cy="40.4" r="3.5" fill="#000c5c"/>
<line x1="348.8" y1="141.5" x2="354.7" y2="141.5" stroke="#828282" stroke-width="1.9"/>
<line x1="382.7" y1="141.5" x2="402.8" y2="141.5" stroke="#828282" stroke-width="1.9"/>
<line x1="348.8" y1="126.5" x2="348.8" y2="156.5" stroke="#828282" stroke-width="1.9"/>
<line x1="402.8" y1="126.5" x2="402.8" y2="156.5" stroke="#828282" stroke-width="1.9"/>
<rect x="354.7" y="113.3" width="28" height="56.4" fill="none" stroke="#828282" stroke-width="1.9"/>
<line x1="368.9" y1="113.3" x2="368.9" y2="169.7" stroke="#828282" stroke-width="1.9"/>
<circle cx="348.8" cy="141.5" r="3.5" fill="#000c5c"/>
<circle cx="352.5" cy="134.5" r="3.5" fill="#000c5c"/>
<circle cx="362.3" cy="141.5" r="3.5" fill="#000c5c"/>
<circle cx="375.4" cy="141.5" r="3.5" fill="#000c5c"/>
<circle cx="385.3" cy="141.5" r="3.5" fill="#000c5c"/>
<circle cx="402.8" cy="141.5" r="3.5" fill="#000c5c"/>
<line x1="379.2" y1="242.2" x2="394.5" y2="242.2" stroke="#828282" stroke-width="1.9"/>
<line x1="423.2" y1="242.2" x2="424.3" y2="242.2" stroke="#828282" stroke-width="1.9"/>
<line x1="379.2" y1="227.2" x2="379.2" y2="257.2" stroke="#828282" stroke-width="1.9"/>
<line x1="424.3" y1="227.2" x2="424.3" y2="257.2" stroke="#828282" stroke-width="1.9"/>
<rect x="394.5" y="214" width="28.7" height="56.4" fill="none" stroke="#828282" stroke-width="1.9"/>
<line x1="414.8" y1="214" x2="414.8" y2="270.4" stroke="#828282" stroke-width="1.9"/>
<circle cx="379.2" cy="242.2" r="3.5" fill="#000c5c"/>
<circle cx="390.8" cy="242.2" r="3.5" fill="#000c5c"/>
<circle cx="407.6" cy="242.2" r="3.5" fill="#000c5c"/>
<circle cx="421.4" cy="242.2" r="3.5" fill="#000c5c"/>
<circle cx="424.7" cy="235.2" r="3.5" fill="#000c5c"/>
<circle cx="423.6" cy="249.8" r="3.5" fill="#000c5c"/>
<polyline points="465.7,40.3 470.3,40.3 470.3,78.9" fill="none" stroke="#8a8a8a" stroke-width="1.1"/>
<polyline points="470.3,93 470.3,131.3 465.7,131.3" fill="none" stroke="#8a8a8a" stroke-width="1.1"/>
<polyline points="479.3,40.3 483.9,40.3 483.9,133" fill="none" stroke="#8a8a8a" stroke-width="1.1"/>
<polyline points="483.9,150 483.9,242.4 479.3,242.4" fill="none" stroke="#8a8a8a" stroke-width="1.1"/>
<polyline points="465.7,151.8 470.3,151.8 470.3,192.8" fill="none" stroke="#8a8a8a" stroke-width="1.1"/>
<polyline points="470.3,201 470.3,242.5 465.7,242.5" fill="none" stroke="#8a8a8a" stroke-width="1.1"/>
<text x="313.2" y="86" font-size="11.8" text-anchor="middle" fill="#222" transform="rotate(-90 313.2 86)">**</text>
<text x="327.5" y="141.7" font-size="11.8" text-anchor="middle" fill="#222" transform="rotate(-90 327.5 141.7)">**</text>
<text x="313.2" y="197.1" font-size="11.8" text-anchor="middle" fill="#222" transform="rotate(-90 313.2 197.1)">**</text>
<text x="472.9" y="86.2" font-size="10.5" text-anchor="middle" fill="#222" transform="rotate(-90 472.9 86.2)">ns</text>
<text x="486.5" y="141.4" font-size="10.5" text-anchor="middle" fill="#222" transform="rotate(-90 486.5 141.4)">ns</text>
<text x="477.3" y="197.3" font-size="11.8" text-anchor="middle" fill="#222" transform="rotate(-90 477.3 197.3)">*</text>
<line x1="544.05" y1="0.4" x2="544.05" y2="81.35" stroke="#000" stroke-width="1.1"/>
<line x1="543.5" y1="80.8" x2="685" y2="80.8" stroke="#000" stroke-width="1.1"/>
<line x1="550.5" y1="80.8" x2="550.5" y2="86" stroke="#000" stroke-width="1.15"/>
<line x1="581.95" y1="80.8" x2="581.95" y2="83.8" stroke="#000" stroke-width="1.15"/>
<line x1="613.4" y1="80.8" x2="613.4" y2="86" stroke="#000" stroke-width="1.15"/>
<line x1="644.85" y1="80.8" x2="644.85" y2="83.8" stroke="#000" stroke-width="1.15"/>
<line x1="676.3" y1="80.8" x2="676.3" y2="86" stroke="#000" stroke-width="1.15"/>
<line x1="538.85" y1="75.6" x2="544.05" y2="75.6" stroke="#000" stroke-width="1.15"/>
<line x1="541.05" y1="50.05" x2="544.05" y2="50.05" stroke="#000" stroke-width="1.15"/>
<line x1="538.85" y1="24.5" x2="544.05" y2="24.5" stroke="#000" stroke-width="1.15"/>
<text x="550.5" y="100.2" font-size="12.4" text-anchor="middle" textLength="7" lengthAdjust="spacingAndGlyphs">0</text>
<text x="613.4" y="100.2" font-size="12.4" text-anchor="middle" textLength="14" lengthAdjust="spacingAndGlyphs">20</text>
<text x="676.3" y="100.2" font-size="12.4" text-anchor="middle" textLength="14" lengthAdjust="spacingAndGlyphs">40</text>
<text x="533.8" y="80.5" font-size="12.4" text-anchor="end" textLength="7" lengthAdjust="spacingAndGlyphs">0</text>
<text x="533.8" y="29.4" font-size="12.4" text-anchor="end" textLength="7" lengthAdjust="spacingAndGlyphs">1</text>
<text x="518.2" y="40.9" font-size="11.6" text-anchor="middle" transform="rotate(-90 518.2 40.9)" textLength="51.6" lengthAdjust="spacingAndGlyphs">Force (N)</text>
<line x1="544.05" y1="101" x2="544.05" y2="182.4" stroke="#000" stroke-width="1.1"/>
<line x1="543.5" y1="181.85" x2="685" y2="181.85" stroke="#000" stroke-width="1.1"/>
<line x1="550.5" y1="181.85" x2="550.5" y2="187.05" stroke="#000" stroke-width="1.15"/>
<line x1="581.95" y1="181.85" x2="581.95" y2="184.85" stroke="#000" stroke-width="1.15"/>
<line x1="613.4" y1="181.85" x2="613.4" y2="187.05" stroke="#000" stroke-width="1.15"/>
<line x1="644.85" y1="181.85" x2="644.85" y2="184.85" stroke="#000" stroke-width="1.15"/>
<line x1="676.3" y1="181.85" x2="676.3" y2="187.05" stroke="#000" stroke-width="1.15"/>
<line x1="538.85" y1="176.5" x2="544.05" y2="176.5" stroke="#000" stroke-width="1.15"/>
<line x1="541.05" y1="150.95" x2="544.05" y2="150.95" stroke="#000" stroke-width="1.15"/>
<line x1="538.85" y1="125.4" x2="544.05" y2="125.4" stroke="#000" stroke-width="1.15"/>
<text x="550.5" y="201.25" font-size="12.4" text-anchor="middle" textLength="7" lengthAdjust="spacingAndGlyphs">0</text>
<text x="613.4" y="201.25" font-size="12.4" text-anchor="middle" textLength="14" lengthAdjust="spacingAndGlyphs">20</text>
<text x="676.3" y="201.25" font-size="12.4" text-anchor="middle" textLength="14" lengthAdjust="spacingAndGlyphs">40</text>
<text x="533.8" y="181.4" font-size="12.4" text-anchor="end" textLength="7" lengthAdjust="spacingAndGlyphs">0</text>
<text x="533.8" y="130.3" font-size="12.4" text-anchor="end" textLength="7" lengthAdjust="spacingAndGlyphs">1</text>
<text x="518.2" y="141.72" font-size="11.6" text-anchor="middle" transform="rotate(-90 518.2 141.72)" textLength="51.6" lengthAdjust="spacingAndGlyphs">Force (N)</text>
<line x1="544.05" y1="201.9" x2="544.05" y2="283.05" stroke="#000" stroke-width="1.1"/>
<line x1="543.5" y1="282.5" x2="685" y2="282.5" stroke="#000" stroke-width="1.1"/>
<line x1="550.5" y1="282.5" x2="550.5" y2="287.7" stroke="#000" stroke-width="1.15"/>
<line x1="581.95" y1="282.5" x2="581.95" y2="285.5" stroke="#000" stroke-width="1.15"/>
<line x1="613.4" y1="282.5" x2="613.4" y2="287.7" stroke="#000" stroke-width="1.15"/>
<line x1="644.85" y1="282.5" x2="644.85" y2="285.5" stroke="#000" stroke-width="1.15"/>
<line x1="676.3" y1="282.5" x2="676.3" y2="287.7" stroke="#000" stroke-width="1.15"/>
<line x1="538.85" y1="277.3" x2="544.05" y2="277.3" stroke="#000" stroke-width="1.15"/>
<line x1="541.05" y1="251.75" x2="544.05" y2="251.75" stroke="#000" stroke-width="1.15"/>
<line x1="538.85" y1="226.2" x2="544.05" y2="226.2" stroke="#000" stroke-width="1.15"/>
<text x="550.5" y="301.9" font-size="12.4" text-anchor="middle" textLength="7" lengthAdjust="spacingAndGlyphs">0</text>
<text x="613.4" y="301.9" font-size="12.4" text-anchor="middle" textLength="14" lengthAdjust="spacingAndGlyphs">20</text>
<text x="676.3" y="301.9" font-size="12.4" text-anchor="middle" textLength="14" lengthAdjust="spacingAndGlyphs">40</text>
<text x="533.8" y="282.2" font-size="12.4" text-anchor="end" textLength="7" lengthAdjust="spacingAndGlyphs">0</text>
<text x="533.8" y="231.1" font-size="12.4" text-anchor="end" textLength="7" lengthAdjust="spacingAndGlyphs">1</text>
<text x="518.2" y="242.5" font-size="11.6" text-anchor="middle" transform="rotate(-90 518.2 242.5)" textLength="51.6" lengthAdjust="spacingAndGlyphs">Force (N)</text>
<text x="613.7" y="318.2" font-size="11.6" text-anchor="middle" textLength="56.6" lengthAdjust="spacingAndGlyphs">Strain (%)</text>
<polyline points="551,76.2 551.17,75.45 551.33,74.71 551.5,73.96 551.66,73.21 551.83,72.47 552,71.72 552.16,70.97 552.33,70.23 552.5,69.48 552.67,68.74 552.84,67.99 553,67.24 553.17,66.5 553.34,65.75 553.51,65.01 553.68,64.26 553.85,63.51 554.02,62.77 554.19,62.02 554.37,61.28 554.54,60.53 554.72,59.79 554.9,59.05 555.08,58.3 555.27,57.56 555.45,56.82 555.63,56.07 555.81,55.33 555.99,54.58 556.17,53.84 556.34,53.09 556.51,52.35 556.67,51.6 556.83,50.85 556.98,50.11 557.13,49.36 557.27,48.61 557.41,47.85 557.55,47.1 557.69,46.35 557.82,45.6 557.96,44.84 558.09,44.09 558.21,43.33 558.34,42.58 558.46,41.82 558.58,41.07 558.7,40.31 558.82,39.56 558.93,38.8 559.05,38.04 559.16,37.29 559.27,36.53 559.37,35.77 559.47,35.01 559.56,34.25 559.65,33.49 559.74,32.73 559.82,31.97 559.9,31.21 559.99,30.45 560.07,29.69 560.16,28.93 560.25,28.17 560.34,27.41 560.43,26.65 560.53,25.89 560.64,25.13 560.75,24.38 560.86,23.62 560.99,22.87 561.13,22.12 561.27,21.37 561.42,20.62 561.59,19.88 561.75,19.13 561.93,18.38 562.11,17.64 562.29,16.89 562.48,16.15 562.67,15.41 562.86,14.67 563.06,13.93 563.25,13.19 563.45,12.45 563.65,11.71 563.85,10.98 564.06,10.24 564.28,9.51 564.5,8.77 564.72,8.04 564.95,7.31 565.18,6.58 565.42,5.85 565.66,5.13 565.9,4.4" fill="none" stroke="#8e8e8e" stroke-width="1.5" stroke-linejoin="round" stroke-linecap="round"/>
<polyline points="551.5,76.2 551.69,75.46 551.88,74.72 552.06,73.98 552.25,73.24 552.44,72.5 552.62,71.76 552.81,71.02 552.99,70.28 553.17,69.54 553.36,68.8 553.54,68.06 553.72,67.32 553.9,66.57 554.08,65.83 554.26,65.09 554.44,64.35 554.62,63.61 554.79,62.86 554.97,62.12 555.15,61.38 555.32,60.64 555.49,59.89 555.66,59.15 555.84,58.41 556,57.66 556.17,56.92 556.34,56.17 556.51,55.43 556.68,54.68 556.85,53.94 557.01,53.2 557.18,52.45 557.35,51.71 557.52,50.96 557.69,50.22 557.86,49.47 558.03,48.73 558.2,47.99 558.38,47.24 558.55,46.5 558.73,45.76 558.9,45.02 559.08,44.27 559.26,43.53 559.44,42.79 559.61,42.05 559.79,41.31 559.97,40.56 560.15,39.82 560.33,39.08 560.51,38.34 560.68,37.6 560.86,36.85 561.04,36.11 561.21,35.37 561.39,34.63 561.56,33.88 561.74,33.14 561.91,32.4 562.08,31.65 562.25,30.91 562.42,30.17 562.59,29.42 562.77,28.68 562.94,27.94 563.11,27.19 563.28,26.45 563.46,25.71 563.63,24.96 563.81,24.22 563.98,23.48 564.16,22.73 564.33,21.99 564.5,21.25 564.68,20.5 564.85,19.76 565.02,19.02 565.2,18.27 565.38,17.53 565.56,16.79 565.75,16.05 565.94,15.31 566.14,14.58 566.34,13.84 566.56,13.11 566.78,12.38 567,11.65 567.24,10.93 567.48,10.2 567.72,9.48 567.97,8.76 568.23,8.04 568.49,7.32 568.75,6.6" fill="none" stroke="#8e8e8e" stroke-width="1.5" stroke-linejoin="round" stroke-linecap="round"/>
<polyline points="552,76.2 552.23,75.48 552.47,74.75 552.7,74.03 552.93,73.3 553.16,72.58 553.39,71.85 553.62,71.13 553.85,70.4 554.07,69.68 554.3,68.95 554.52,68.23 554.74,67.5 554.97,66.77 555.19,66.04 555.41,65.32 555.63,64.59 555.85,63.86 556.06,63.13 556.28,62.4 556.5,61.67 556.71,60.95 556.92,60.22 557.13,59.49 557.34,58.75 557.55,58.02 557.76,57.29 557.97,56.56 558.17,55.83 558.38,55.1 558.59,54.36 558.79,53.63 558.99,52.9 559.2,52.17 559.4,51.44 559.6,50.7 559.81,49.97 560.01,49.24 560.21,48.5 560.41,47.77 560.62,47.04 560.82,46.3 561.01,45.57 561.21,44.84 561.41,44.1 561.61,43.37 561.81,42.64 562.01,41.9 562.21,41.17 562.41,40.43 562.61,39.7 562.81,38.97 563.01,38.23 563.21,37.5 563.4,36.77 563.6,36.03 563.8,35.3 564,34.56 564.2,33.83 564.4,33.1 564.6,32.36 564.81,31.63 565.03,30.91 565.26,30.18 565.51,29.46 565.76,28.74 566,28.02 566.22,27.29 566.41,26.56 566.56,25.82 566.7,25.07 566.82,24.32 566.94,23.56 567.06,22.81 567.19,22.06 567.34,21.32 567.5,20.57 567.67,19.83 567.85,19.09 568.05,18.35 568.26,17.63 568.5,16.91 568.77,16.2 569.08,15.5 569.4,14.81 569.74,14.13 570.08,13.45 570.44,12.78 570.83,12.12 571.24,11.49 571.67,10.86 572.12,10.22 572.58,9.6 573.06,8.99 573.56,8.4 574.08,7.84 574.62,7.33 575.17,6.86 575.75,6.42 576.36,5.99 576.99,5.58 577.65,5.19 578.33,4.83 579.03,4.49 579.76,4.18 580.5,3.9" fill="none" stroke="#8e8e8e" stroke-width="1.5" stroke-linejoin="round" stroke-linecap="round"/>
<polyline points="552.3,76.2 552.54,75.47 552.78,74.75 553.02,74.02 553.26,73.3 553.5,72.57 553.73,71.84 553.97,71.12 554.2,70.39 554.43,69.66 554.66,68.93 554.89,68.2 555.12,67.47 555.35,66.74 555.58,66.01 555.8,65.28 556.03,64.55 556.25,63.82 556.47,63.09 556.69,62.36 556.91,61.63 557.13,60.89 557.35,60.16 557.56,59.43 557.78,58.7 557.99,57.96 558.21,57.23 558.42,56.49 558.63,55.76 558.84,55.02 559.04,54.29 559.25,53.55 559.46,52.82 559.66,52.08 559.86,51.34 560.07,50.61 560.27,49.87 560.47,49.13 560.66,48.39 560.86,47.65 561.06,46.91 561.25,46.18 561.44,45.44 561.64,44.7 561.83,43.96 562.02,43.22 562.21,42.47 562.39,41.73 562.58,40.99 562.76,40.25 562.94,39.51 563.12,38.76 563.3,38.02 563.47,37.28 563.65,36.53 563.82,35.79 564,35.04 564.17,34.3 564.34,33.55 564.51,32.81 564.68,32.06 564.84,31.32 565,30.57 565.15,29.82 565.3,29.07 565.44,28.32 565.57,27.57 565.69,26.81 565.8,26.05 565.9,25.29 566,24.53 566.1,23.76 566.19,23 566.29,22.24 566.4,21.48 566.52,20.73 566.65,19.98 566.79,19.24 566.96,18.51 567.17,17.78 567.41,17.05 567.69,16.33 567.99,15.62 568.31,14.92 568.64,14.23 568.98,13.55 569.35,12.88 569.76,12.23 570.2,11.6 570.67,11 571.18,10.43 571.71,9.88 572.27,9.36 572.85,8.86 573.44,8.38 574.06,7.92 574.68,7.48 575.31,7.06 575.96,6.65 576.62,6.27 577.3,5.9" fill="none" stroke="#8e8e8e" stroke-width="1.5" stroke-linejoin="round" stroke-linecap="round"/>
<polyline points="552,76.2 552.26,75.47 552.52,74.74 552.77,74.02 553.03,73.29 553.28,72.56 553.53,71.83 553.78,71.1 554.02,70.36 554.27,69.63 554.51,68.9 554.75,68.17 554.99,67.43 555.23,66.7 555.46,65.96 555.7,65.23 555.93,64.49 556.16,63.76 556.39,63.02 556.61,62.28 556.84,61.54 557.06,60.81 557.28,60.07 557.5,59.33 557.71,58.59 557.92,57.84 558.13,57.1 558.33,56.36 558.53,55.61 558.73,54.87 558.93,54.12 559.13,53.38 559.33,52.63 559.53,51.88 559.73,51.14 559.93,50.39 560.14,49.65 560.34,48.91 560.55,48.16 560.77,47.42 560.98,46.68 561.2,45.94 561.41,45.2 561.63,44.46 561.85,43.72 562.07,42.98 562.3,42.24 562.52,41.5 562.75,40.77 562.97,40.03 563.2,39.29 563.43,38.55 563.66,37.82 563.89,37.08 564.13,36.35 564.36,35.61 564.6,34.88 564.85,34.15 565.09,33.42 565.33,32.68 565.57,31.95 565.81,31.22 566.05,30.48 566.28,29.75 566.51,29.01 566.74,28.27 566.97,27.54 567.2,26.8" fill="none" stroke="#8e8e8e" stroke-width="1.5" stroke-linejoin="round" stroke-linecap="round"/>
<polyline points="552.6,76.2 552.86,75.48 553.13,74.77 553.38,74.05 553.64,73.33 553.9,72.61 554.15,71.9 554.4,71.18 554.65,70.46 554.9,69.73 555.14,69.01 555.38,68.29 555.62,67.57 555.86,66.84 556.1,66.12 556.33,65.4 556.56,64.67 556.79,63.94 557.02,63.22 557.25,62.49 557.47,61.76 557.69,61.04 557.91,60.31 558.12,59.58 558.34,58.85 558.54,58.12 558.75,57.38 558.95,56.65 559.15,55.91 559.35,55.18 559.54,54.44 559.74,53.7 559.93,52.97 560.12,52.23 560.31,51.49 560.51,50.76 560.7,50.02 560.89,49.28 561.09,48.54 561.28,47.81 561.48,47.07 561.68,46.34 561.88,45.6 562.08,44.87 562.27,44.13 562.47,43.4 562.67,42.66 562.87,41.92 563.07,41.19 563.27,40.45 563.47,39.72 563.67,38.98 563.87,38.25 564.07,37.52 564.28,36.78 564.49,36.05 564.7,35.32 564.92,34.59 565.16,33.86 565.4,33.14 565.64,32.41 565.87,31.68 566.1,30.95 566.32,30.22 566.53,29.49 566.72,28.76 566.89,28.02 567.04,27.28 567.18,26.53 567.31,25.78 567.43,25.03 567.54,24.28 567.64,23.52 567.72,22.76 567.8,22" fill="none" stroke="#8e8e8e" stroke-width="1.5" stroke-linejoin="round" stroke-linecap="round"/>
<polyline points="551.6,76.2 551.78,75.46 551.97,74.72 552.15,73.98 552.33,73.24 552.51,72.5 552.7,71.76 552.88,71.02 553.06,70.28 553.24,69.55 553.43,68.81 553.61,68.07 553.79,67.33 553.98,66.59 554.16,65.85 554.34,65.11 554.52,64.37 554.7,63.63 554.89,62.89 555.07,62.15 555.25,61.41 555.43,60.67 555.62,59.93 555.8,59.19 555.98,58.45 556.16,57.71 556.34,56.97 556.53,56.23 556.71,55.49 556.89,54.75 557.07,54.01 557.25,53.28 557.43,52.54 557.62,51.8 557.8,51.06 557.98,50.32 558.16,49.58 558.35,48.84 558.53,48.1 558.71,47.36 558.89,46.62 559.08,45.88 559.26,45.14 559.44,44.4 559.62,43.66 559.8,42.92 559.98,42.18 560.17,41.44 560.35,40.7 560.53,39.96 560.72,39.22 560.9,38.48 561.09,37.75 561.28,37.01 561.47,36.27 561.66,35.53 561.85,34.8 562.05,34.06 562.24,33.33 562.44,32.59 562.64,31.85 562.84,31.12 563.04,30.38 563.24,29.65 563.44,28.91 563.65,28.18 563.86,27.45 564.08,26.72 564.3,25.99 564.52,25.26 564.75,24.54 564.98,23.81 565.22,23.09 565.47,22.37 565.72,21.65 565.98,20.93 566.24,20.22 566.5,19.5" fill="none" stroke="#8e8e8e" stroke-width="1.5" stroke-linejoin="round" stroke-linecap="round"/>
<polyline points="550.4,76.4 551.3,76.31 552.1,76.13 552.62,75.89 552.91,75.52 553.16,74.97 553.36,74.27 553.53,73.46 553.68,72.59 553.82,71.69 553.96,70.8 554.11,69.95 554.27,69.19 554.43,68.45 554.6,67.7 554.76,66.95 554.92,66.2 555.07,65.46 555.23,64.71 555.38,63.96 555.52,63.21 555.67,62.46 555.81,61.71 555.95,60.96 556.09,60.2 556.23,59.45 556.36,58.7 556.48,57.95 556.6,57.19 556.72,56.44 556.84,55.68 556.95,54.92 557.06,54.17 557.17,53.41 557.28,52.65 557.39,51.9 557.5,51.14 557.61,50.38 557.72,49.63 557.84,48.87 557.96,48.12 558.08,47.36 558.21,46.61 558.34,45.86 558.48,45.11 558.62,44.36 558.78,43.61 558.93,42.87 559.1,42.12 559.26,41.37 559.44,40.63 559.61,39.88 559.8,39.14 559.98,38.4 560.17,37.66 560.36,36.92 560.55,36.18 560.75,35.44 560.95,34.7 561.16,33.97 561.38,33.24 561.6,32.5 561.83,31.77 562.06,31.05 562.29,30.32 562.54,29.59 562.78,28.87 563.04,28.15 563.29,27.43 563.56,26.71 563.83,26 564.11,25.29 564.39,24.58 564.68,23.87 564.97,23.16 565.27,22.46 565.58,21.76 565.89,21.07 566.21,20.37 566.53,19.68 566.86,18.99 567.2,18.3" fill="none" stroke="#000c5c" stroke-width="1.4" stroke-linejoin="round" stroke-linecap="round"/>
<polyline points="567.2,18.3 567.5,19.8" fill="none" stroke="#000c5c" stroke-width="1.5" stroke-linejoin="round" stroke-linecap="round"/>
<rect x="550.2" y="74.8" width="2.8" height="2.6" fill="#000c5c"/>
<polyline points="550.5,176.6 551.25,176.44 551.99,176.27 552.73,176.1 553.48,175.93 554.22,175.76 554.96,175.58 555.7,175.4 556.44,175.22 557.18,175.04 557.92,174.85 558.66,174.67 559.4,174.48 560.14,174.28 560.87,174.09 561.61,173.89 562.34,173.7 563.08,173.5 563.81,173.29 564.54,173.09 565.27,172.88 566.01,172.67 566.74,172.46 567.47,172.25 568.2,172.04 568.92,171.82 569.65,171.6 570.38,171.39 571.1,171.16 571.83,170.94 572.55,170.71 573.28,170.47 574,170.24 574.72,170 575.44,169.75 576.16,169.51 576.88,169.26 577.6,169.01 578.32,168.76 579.04,168.5 579.76,168.24 580.47,167.99 581.19,167.72 581.91,167.46 582.62,167.2 583.34,166.93 584.05,166.66 584.76,166.4 585.48,166.13 586.19,165.86 586.9,165.59 587.61,165.31 588.32,165.04 589.03,164.77 589.74,164.5 590.45,164.23 591.16,163.95 591.87,163.67 592.58,163.39 593.28,163.11 593.99,162.82 594.69,162.53 595.39,162.24 596.1,161.95 596.8,161.66 597.5,161.36 598.2,161.06 598.9,160.77 599.6,160.47 600.3,160.17 601,159.87 601.7,159.56 602.4,159.26 603.1,158.96 603.8,158.66 604.5,158.35 605.19,158.05 605.89,157.75 606.59,157.44 607.29,157.14 607.99,156.84 608.69,156.54 609.39,156.24 610.09,155.94 610.79,155.65 611.49,155.35 612.2,155.06 612.9,154.76 613.6,154.47 614.31,154.18 615.01,153.9 615.72,153.61 616.42,153.32 617.13,153.03 617.83,152.74 618.53,152.44 619.24,152.15 619.94,151.86 620.65,151.57 621.35,151.27 622.06,150.99 622.76,150.7 623.47,150.41 624.18,150.13 624.89,149.85 625.6,149.58 626.31,149.31 627.02,149.04 627.73,148.78 628.45,148.53 629.17,148.28 629.88,148.04 630.61,147.8 631.33,147.57 632.05,147.34 632.78,147.11 633.5,146.89 634.23,146.67 634.96,146.45 635.69,146.23 636.42,146.02 637.15,145.81 637.89,145.61 638.62,145.41 639.36,145.21 640.1,145.01 640.83,144.82 641.57,144.64 642.31,144.45 643.06,144.28 643.8,144.1" fill="none" stroke="#8e8e8e" stroke-width="1.6" stroke-linejoin="round" stroke-linecap="round"/>
<polyline points="550.5,177 551.25,176.85 551.99,176.7 552.73,176.55 553.48,176.39 554.22,176.24 554.97,176.08 555.71,175.92 556.45,175.76 557.19,175.6 557.93,175.43 558.67,175.26 559.41,175.1 560.15,174.93 560.89,174.75 561.63,174.58 562.37,174.41 563.11,174.23 563.85,174.05 564.58,173.87 565.32,173.69 566.06,173.51 566.79,173.32 567.53,173.14 568.26,172.95 569,172.76 569.73,172.57 570.46,172.38 571.19,172.19 571.93,171.99 572.66,171.79 573.39,171.59 574.12,171.39 574.85,171.18 575.58,170.98 576.31,170.77 577.04,170.56 577.77,170.34 578.5,170.13 579.23,169.91 579.96,169.7 580.69,169.48 581.41,169.25 582.14,169.03 582.86,168.81 583.59,168.58 584.31,168.35 585.04,168.12 585.76,167.89 586.48,167.66 587.2,167.42 587.92,167.19 588.65,166.95 589.36,166.71 590.08,166.47 590.8,166.23 591.52,165.98 592.23,165.73 592.95,165.48 593.66,165.22 594.37,164.97 595.08,164.7 595.8,164.44 596.51,164.17 597.22,163.9 597.92,163.63 598.63,163.36 599.34,163.09 600.05,162.81 600.75,162.53 601.46,162.26 602.17,161.98 602.87,161.7 603.58,161.42 604.29,161.14 604.99,160.86 605.7,160.58 606.4,160.3 607.11,160.02 607.82,159.74 608.52,159.46 609.23,159.18 609.94,158.91 610.65,158.63 611.36,158.36 612.07,158.09 612.78,157.82 613.49,157.56 614.2,157.29 614.91,157.03 615.62,156.77 616.34,156.52 617.05,156.26 617.77,156.01 618.48,155.76 619.2,155.51 619.92,155.26 620.63,155.01 621.35,154.76 622.07,154.51 622.79,154.27 623.51,154.02 624.22,153.78 624.94,153.53 625.66,153.28 626.38,153.04 627.1,152.79 627.81,152.54 628.53,152.3 629.25,152.05 629.97,151.8 630.68,151.55 631.4,151.3 632.11,151.04 632.83,150.79 633.54,150.53 634.26,150.27 634.97,150.01 635.68,149.75 636.39,149.49 637.1,149.22 637.81,148.96 638.52,148.69 639.23,148.43 639.94,148.16 640.65,147.89 641.36,147.62 642.07,147.35 642.78,147.08 643.49,146.81 644.2,146.54 644.91,146.26 645.62,145.99 646.32,145.72 647.03,145.44 647.74,145.16 648.44,144.89 649.15,144.61 649.86,144.33 650.56,144.05 651.27,143.77 651.97,143.49 652.68,143.21 653.38,142.93 654.09,142.64 654.79,142.36 655.49,142.07 656.2,141.79 656.9,141.5" fill="none" stroke="#8e8e8e" stroke-width="1.6" stroke-linejoin="round" stroke-linecap="round"/>
<polyline points="550.5,177 551.25,176.87 552,176.74 552.75,176.6 553.5,176.47 554.24,176.33 554.99,176.19 555.74,176.05 556.48,175.91 557.23,175.76 557.98,175.61 558.72,175.47 559.47,175.32 560.21,175.16 560.95,175.01 561.7,174.85 562.44,174.7 563.18,174.54 563.92,174.38 564.67,174.21 565.41,174.05 566.15,173.88 566.89,173.72 567.63,173.55 568.37,173.38 569.11,173.21 569.85,173.04 570.58,172.86 571.32,172.69 572.06,172.51 572.79,172.32 573.53,172.14 574.27,171.95 575,171.76 575.74,171.57 576.47,171.38 577.21,171.18 577.94,170.99 578.67,170.79 579.41,170.58 580.14,170.38 580.87,170.18 581.6,169.97 582.34,169.76 583.07,169.55 583.8,169.34 584.53,169.13 585.26,168.92 585.98,168.7 586.71,168.49 587.44,168.27 588.17,168.05 588.9,167.83 589.62,167.61 590.35,167.39 591.07,167.17 591.8,166.95 592.52,166.72 593.24,166.49 593.97,166.26 594.69,166.02 595.41,165.78 596.13,165.55 596.85,165.31 597.57,165.06 598.29,164.82 599.01,164.57 599.73,164.33 600.44,164.08 601.16,163.83 601.88,163.58 602.6,163.33 603.32,163.08 604.03,162.83 604.75,162.58 605.47,162.33 606.18,162.07 606.9,161.82 607.62,161.57 608.33,161.32 609.05,161.06 609.77,160.81 610.48,160.56 611.2,160.31 611.92,160.06 612.64,159.81 613.36,159.56 614.07,159.32 614.79,159.07 615.51,158.83 616.23,158.58 616.95,158.34 617.67,158.09 618.39,157.85 619.11,157.61 619.83,157.36 620.55,157.12 621.27,156.88 621.99,156.64 622.71,156.39 623.43,156.15 624.15,155.91 624.86,155.66 625.58,155.42 626.3,155.18 627.02,154.93 627.74,154.69 628.46,154.45 629.18,154.2 629.9,153.96 630.62,153.72 631.34,153.47 632.06,153.23 632.78,152.98 633.5,152.74 634.22,152.49 634.93,152.25 635.65,152 636.37,151.75 637.09,151.51 637.81,151.26 638.52,151.01 639.24,150.76 639.96,150.51 640.68,150.26 641.39,150.01 642.11,149.76 642.83,149.51 643.54,149.26 644.26,149.01 644.98,148.76 645.69,148.51 646.41,148.26 647.13,148 647.84,147.75 648.56,147.5 649.27,147.24 649.99,146.99 650.71,146.73 651.42,146.48 652.14,146.22 652.85,145.97 653.57,145.71 654.28,145.46 655,145.2 655.71,144.95 656.43,144.69 657.14,144.43 657.86,144.17 658.57,143.92 659.29,143.66 660,143.4" fill="none" stroke="#8e8e8e" stroke-width="1.6" stroke-linejoin="round" stroke-linecap="round"/>
<polyline points="550.5,177.5 551.25,177.39 552,177.28 552.74,177.18 553.49,177.07 554.24,176.96 554.99,176.85 555.74,176.73 556.48,176.62 557.23,176.51 557.98,176.4 558.72,176.28 559.47,176.17 560.22,176.05 560.97,175.94 561.71,175.82 562.46,175.71 563.21,175.59 563.95,175.47 564.7,175.35 565.44,175.24 566.19,175.12 566.94,175 567.68,174.88 568.43,174.76 569.17,174.63 569.92,174.51 570.67,174.39 571.41,174.27 572.16,174.15 572.91,174.03 573.65,173.91 574.4,173.79 575.14,173.66 575.89,173.54 576.64,173.42 577.38,173.3 578.13,173.17 578.88,173.05 579.62,172.92 580.37,172.8 581.11,172.67 581.86,172.54 582.6,172.41 583.35,172.28 584.09,172.14 584.83,172.01 585.58,171.87 586.32,171.73 587.06,171.59 587.8,171.44 588.54,171.3 589.28,171.15 590.02,171 590.76,170.84 591.5,170.68 592.23,170.52 592.97,170.36 593.7,170.19 594.44,170.02 595.17,169.84 595.91,169.67 596.64,169.49 597.38,169.31 598.11,169.12 598.84,168.94 599.58,168.75 600.31,168.56 601.04,168.37 601.77,168.18 602.5,167.98 603.23,167.79 603.96,167.59 604.69,167.39 605.42,167.19 606.15,166.99 606.88,166.79 607.61,166.58 608.34,166.38 609.07,166.18 609.8,165.97 610.52,165.77 611.25,165.56 611.98,165.35 612.71,165.15 613.43,164.94 614.16,164.74 614.89,164.53 615.62,164.33 616.34,164.12 617.07,163.92 617.8,163.71 618.53,163.51 619.26,163.31 619.99,163.1 620.72,162.9 621.45,162.7 622.18,162.49 622.91,162.28 623.64,162.08 624.37,161.87 625.1,161.66 625.83,161.45 626.56,161.24 627.29,161.03 628.02,160.81 628.74,160.59 629.47,160.38 630.19,160.15 630.92,159.93 631.64,159.71 632.36,159.48 633.08,159.25 633.8,159.01 634.51,158.77 635.23,158.53 635.94,158.29 636.65,158.04 637.36,157.79 638.06,157.54 638.77,157.28 639.47,157.02 640.17,156.75 640.87,156.48 641.56,156.2 642.25,155.9 642.94,155.6 643.63,155.3 644.31,154.98 644.99,154.66 645.67,154.33 646.35,154 647.02,153.66 647.7,153.32 648.37,152.98 649.04,152.63 649.71,152.27 650.38,151.92 651.05,151.56 651.72,151.2 652.39,150.84 653.06,150.48 653.73,150.12 654.4,149.77 655.07,149.41 655.74,149.06 656.41,148.7 657.09,148.35 657.76,148.01 658.44,147.67 659.12,147.33 659.8,147 660.48,146.67 661.16,146.35 661.84,146.02 662.52,145.69 663.2,145.37 663.89,145.05 664.57,144.72 665.25,144.4 665.94,144.08 666.62,143.76 667.31,143.44 667.99,143.12 668.68,142.8 669.36,142.48 670.05,142.16 670.73,141.85 671.42,141.53 672.11,141.21 672.79,140.9 673.48,140.58 674.17,140.27 674.86,139.96 675.54,139.64 676.23,139.33 676.92,139.02 677.61,138.71 678.3,138.4" fill="none" stroke="#8e8e8e" stroke-width="1.6" stroke-linejoin="round" stroke-linecap="round"/>
<polyline points="550.5,177.8 551.25,177.72 552,177.63 552.76,177.55 553.51,177.47 554.26,177.38 555.01,177.3 555.76,177.21 556.51,177.13 557.26,177.04 558.01,176.95 558.77,176.86 559.52,176.78 560.27,176.69 561.02,176.6 561.77,176.51 562.52,176.42 563.27,176.33 564.02,176.24 564.77,176.15 565.52,176.06 566.27,175.96 567.02,175.87 567.78,175.78 568.53,175.68 569.28,175.59 570.03,175.5 570.78,175.4 571.53,175.31 572.28,175.22 573.03,175.12 573.78,175.03 574.53,174.94 575.28,174.85 576.03,174.76 576.79,174.66 577.54,174.57 578.29,174.48 579.04,174.38 579.79,174.28 580.54,174.19 581.29,174.09 582.04,173.99 582.79,173.89 583.54,173.79 584.29,173.68 585.04,173.57 585.79,173.46 586.53,173.35 587.28,173.24 588.03,173.12 588.77,173 589.51,172.88 590.26,172.76 591,172.63 591.74,172.49 592.49,172.36 593.23,172.22 593.97,172.07 594.71,171.92 595.45,171.77 596.19,171.62 596.93,171.46 597.67,171.3 598.41,171.14 599.15,170.97 599.88,170.8 600.62,170.63 601.36,170.46 602.09,170.28 602.83,170.11 603.57,169.93 604.3,169.75 605.04,169.56 605.77,169.38 606.51,169.2 607.24,169.01 607.98,168.82 608.71,168.63 609.44,168.45 610.18,168.26 610.91,168.07 611.64,167.88 612.37,167.68 613.11,167.49 613.84,167.3 614.57,167.11 615.3,166.92 616.03,166.73 616.76,166.54 617.49,166.34 618.22,166.14 618.95,165.95 619.68,165.75 620.41,165.54 621.14,165.34 621.86,165.14 622.59,164.93 623.32,164.72 624.05,164.51 624.77,164.3 625.5,164.09 626.22,163.88 626.95,163.66 627.68,163.45 628.4,163.23 629.13,163.01 629.85,162.79 630.57,162.57 631.3,162.35 632.02,162.13 632.74,161.9 633.47,161.68 634.19,161.45 634.91,161.22 635.63,161 636.35,160.77 637.07,160.54 637.79,160.31 638.51,160.08 639.23,159.85 639.95,159.61 640.67,159.38 641.39,159.14 642.1,158.91 642.82,158.67 643.54,158.42 644.25,158.18 644.97,157.93 645.68,157.68 646.39,157.43 647.11,157.18 647.82,156.93 648.53,156.67 649.24,156.42 649.95,156.16 650.67,155.9 651.38,155.64 652.09,155.39 652.8,155.13 653.51,154.87 654.22,154.61 654.93,154.35 655.64,154.09 656.35,153.83 657.06,153.57 657.77,153.31 658.48,153.05 659.19,152.79 659.91,152.53 660.62,152.28 661.33,152.02 662.04,151.76 662.75,151.5 663.46,151.25 664.17,150.99 664.88,150.73 665.59,150.47 666.3,150.21 667.01,149.95 667.72,149.69 668.43,149.43 669.14,149.17 669.85,148.91 670.56,148.65 671.27,148.39 671.98,148.12 672.69,147.86 673.4,147.6" fill="none" stroke="#8e8e8e" stroke-width="1.6" stroke-linejoin="round" stroke-linecap="round"/>
<polyline points="550.5,177.3 551.25,177.18 552,177.07 552.75,176.95 553.5,176.83 554.25,176.71 554.99,176.59 555.74,176.47 556.49,176.35 557.24,176.22 557.99,176.1 558.74,175.98 559.48,175.85 560.23,175.72 560.98,175.6 561.73,175.47 562.47,175.34 563.22,175.21 563.97,175.08 564.71,174.95 565.46,174.82 566.21,174.69 566.95,174.55 567.7,174.42 568.45,174.28 569.19,174.15 569.94,174.01 570.68,173.87 571.43,173.74 572.18,173.6 572.92,173.47 573.67,173.33 574.41,173.19 575.16,173.05 575.91,172.91 576.65,172.77 577.4,172.63 578.15,172.49 578.89,172.35 579.64,172.21 580.38,172.06 581.13,171.92 581.87,171.77 582.62,171.62 583.36,171.47 584.1,171.31 584.84,171.16 585.58,171 586.32,170.84 587.06,170.68 587.8,170.51 588.54,170.34 589.28,170.17 590.01,170 590.75,169.82 591.48,169.64 592.21,169.45 592.94,169.25 593.67,169.06 594.4,168.86 595.13,168.65 595.86,168.44 596.59,168.23 597.31,168.02 598.04,167.8 598.77,167.58 599.49,167.35 600.22,167.13 600.94,166.9 601.66,166.67 602.39,166.45 603.11,166.21 603.83,165.98 604.56,165.75 605.28,165.52 606,165.29 606.73,165.05 607.45,164.82 608.17,164.59 608.9,164.36 609.62,164.13 610.35,163.91 611.07,163.68 611.8,163.46 612.52,163.23 613.25,163.02 613.98,162.8 614.7,162.59 615.43,162.37 616.16,162.15 616.89,161.91 617.61,161.67 618.34,161.41 619.06,161.16 619.79,160.9 620.51,160.64 621.24,160.38 621.96,160.13 622.69,159.88 623.42,159.65 624.14,159.42 624.87,159.21 625.61,159.01 626.34,158.84 627.07,158.68 627.81,158.54 628.55,158.43 629.29,158.35 630.04,158.3 630.78,158.26 631.54,158.22 632.29,158.19 633.05,158.16 633.81,158.13 634.57,158.12 635.33,158.1 636.1,158.1" fill="none" stroke="#8e8e8e" stroke-width="1.6" stroke-linejoin="round" stroke-linecap="round"/>
<polyline points="550.5,176.8 551.24,176.64 551.99,176.48 552.73,176.32 553.47,176.16 554.22,176 554.96,175.83 555.7,175.66 556.44,175.49 557.18,175.32 557.92,175.14 558.66,174.96 559.39,174.78 560.13,174.6 560.87,174.42 561.6,174.24 562.34,174.05 563.08,173.86 563.81,173.67 564.54,173.48 565.28,173.29 566.01,173.09 566.74,172.9 567.48,172.7 568.21,172.5 568.94,172.3 569.67,172.09 570.4,171.89 571.13,171.68 571.85,171.47 572.58,171.26 573.31,171.04 574.04,170.82 574.76,170.6 575.49,170.38 576.21,170.16 576.94,169.93 577.66,169.7 578.39,169.47 579.11,169.23 579.83,169 580.55,168.76 581.28,168.52 582,168.28 582.72,168.04 583.44,167.79 584.16,167.55 584.87,167.3 585.59,167.05 586.31,166.8 587.03,166.55 587.74,166.3 588.46,166.05 589.17,165.8 589.89,165.54 590.6,165.28 591.31,165.02 592.02,164.76 592.73,164.49 593.44,164.22 594.15,163.95 594.85,163.67 595.56,163.39 596.26,163.11 596.97,162.83 597.67,162.54 598.37,162.26 599.08,161.97 599.78,161.68 600.48,161.39 601.18,161.1 601.88,160.81 602.58,160.51 603.29,160.22 603.99,159.93 604.69,159.63 605.39,159.34 606.09,159.05 606.79,158.76 607.49,158.47 608.2,158.18 608.9,157.89 609.6,157.61 610.31,157.32 611.01,157.04 611.72,156.76 612.42,156.48 613.13,156.21 613.84,155.94 614.55,155.67 615.26,155.4 615.97,155.14 616.68,154.87 617.39,154.61 618.11,154.34 618.82,154.08 619.53,153.81 620.24,153.55 620.96,153.29 621.67,153.03 622.38,152.76 623.1,152.5 623.81,152.25 624.53,151.99 625.24,151.73 625.96,151.48 626.68,151.23 627.39,150.98 628.11,150.73 628.83,150.48 629.55,150.24 630.27,150 630.99,149.76 631.71,149.53 632.43,149.3 633.15,149.07 633.88,148.84 634.6,148.62 635.33,148.4 636.05,148.19 636.78,147.97 637.51,147.76 638.24,147.55 638.97,147.34 639.7,147.14 640.43,146.93 641.16,146.73 641.89,146.53 642.63,146.34 643.36,146.14 644.1,145.95 644.83,145.76 645.57,145.58 646.3,145.39 647.04,145.21 647.78,145.03 648.52,144.85 649.26,144.67 650,144.5" fill="none" stroke="#8e8e8e" stroke-width="1.6" stroke-linejoin="round" stroke-linecap="round"/>
<polyline points="550.5,177.2 551.25,177.07 551.99,176.95 552.74,176.82 553.49,176.69 554.23,176.56 554.98,176.42 555.72,176.29 556.47,176.16 557.21,176.02 557.96,175.88 558.7,175.74 559.44,175.61 560.19,175.46 560.93,175.32 561.68,175.18 562.42,175.04 563.16,174.89 563.9,174.74 564.65,174.6 565.39,174.45 566.13,174.3 566.87,174.15 567.61,174 568.35,173.84 569.09,173.69 569.83,173.53 570.57,173.38 571.31,173.22 572.05,173.07 572.79,172.91 573.54,172.75 574.28,172.59 575.02,172.43 575.76,172.27 576.5,172.1 577.24,171.94 577.97,171.77 578.71,171.6 579.45,171.44 580.19,171.26 580.93,171.09 581.67,170.92 582.4,170.74 583.14,170.57 583.87,170.39 584.61,170.2 585.34,170.02 586.08,169.84 586.81,169.65 587.54,169.46 588.27,169.27 589,169.07 589.73,168.87 590.46,168.67 591.18,168.47 591.91,168.26 592.63,168.05 593.36,167.83 594.08,167.61 594.8,167.39 595.53,167.17 596.25,166.94 596.97,166.71 597.69,166.47 598.4,166.24 599.12,166 599.84,165.76 600.56,165.51 601.27,165.27 601.99,165.02 602.71,164.78 603.42,164.53 604.14,164.28 604.85,164.03 605.57,163.78 606.28,163.53 607,163.27 607.71,163.02 608.43,162.77 609.15,162.52 609.86,162.27 610.58,162.02 611.29,161.77 612.01,161.52 612.72,161.27 613.44,161.03 614.16,160.78 614.87,160.54 615.59,160.3 616.31,160.06 617.03,159.82 617.74,159.58 618.46,159.34 619.18,159.1 619.9,158.86 620.62,158.62 621.33,158.38 622.05,158.14 622.77,157.9 623.49,157.66 624.21,157.42 624.92,157.18 625.64,156.94 626.36,156.7 627.08,156.46 627.79,156.22 628.51,155.98 629.23,155.74 629.95,155.5 630.66,155.25 631.38,155.01 632.1,154.76 632.81,154.52 633.53,154.27 634.24,154.03 634.96,153.78 635.67,153.53 636.39,153.28 637.1,153.03 637.81,152.78 638.53,152.53 639.24,152.27 639.95,152.02 640.66,151.76 641.38,151.5 642.09,151.24 642.8,150.98 643.51,150.72 644.22,150.46 644.93,150.19 645.64,149.93 646.34,149.66 647.05,149.4 647.76,149.13 648.47,148.86 649.17,148.59 649.88,148.32 650.59,148.04 651.29,147.77 652,147.5" fill="none" stroke="#8e8e8e" stroke-width="1.6" stroke-linejoin="round" stroke-linecap="round"/>
<polyline points="656.9,141.5 656.9,157.4" fill="none" stroke="#8e8e8e" stroke-width="1.6" stroke-linejoin="round" stroke-linecap="round"/>
<polyline points="660,143.4 660,157.4" fill="none" stroke="#8e8e8e" stroke-width="1.6" stroke-linejoin="round" stroke-linecap="round"/>
<polyline points="673.4,147.6 674,150.4" fill="none" stroke="#8e8e8e" stroke-width="1.6" stroke-linejoin="round" stroke-linecap="round"/>
<polyline points="636.1,158.1 639,158.8 641,160.5 641.7,165.9" fill="none" stroke="#8e8e8e" stroke-width="1.6" stroke-linejoin="round" stroke-linecap="round"/>
<polyline points="550.1,176.8 550.82,176.58 551.55,176.36 552.27,176.14 553,175.93 553.73,175.72 554.46,175.52 555.19,175.31 555.92,175.12 556.65,174.93 557.38,174.74 558.11,174.55 558.85,174.37 559.58,174.2 560.32,174.03 561.05,173.86 561.79,173.71 562.53,173.56 563.27,173.41 564.02,173.27 564.76,173.12 565.5,172.98 566.25,172.84 566.99,172.7 567.73,172.56 568.48,172.41 569.22,172.26 569.96,172.11 570.7,171.95 571.43,171.79 572.17,171.62 572.91,171.46 573.65,171.29 574.38,171.12 575.12,170.95 575.86,170.78 576.59,170.6 577.33,170.43 578.07,170.26 578.8,170.09 579.54,169.92 580.28,169.75 581.01,169.58 581.75,169.41 582.49,169.25 583.23,169.09 583.97,168.93 584.71,168.78 585.45,168.62 586.19,168.47 586.93,168.31 587.67,168.15 588.41,167.98 589.14,167.81 589.88,167.63 590.61,167.44 591.34,167.25 592.06,167.05 592.79,166.84 593.51,166.62 594.24,166.4 594.96,166.18 595.68,165.95 596.41,165.73 597.13,165.5 597.85,165.27 598.57,165.04 599.29,164.82 600.02,164.6 600.74,164.37 601.46,164.15 602.18,163.93 602.91,163.71 603.63,163.49 604.35,163.26 605.08,163.04 605.8,162.82 606.52,162.59 607.24,162.37 607.96,162.14 608.69,161.92 609.41,161.69 610.13,161.47 610.85,161.24 611.57,161.01 612.29,160.78 613.01,160.55 613.73,160.33 614.46,160.1 615.18,159.88 615.9,159.65 616.62,159.43 617.35,159.2 618.07,158.97 618.78,158.73 619.5,158.48 620.2,158.22 620.91,157.96 621.61,157.69 622.31,157.41 623.01,157.12 623.71,156.82 624.4,156.52 625.09,156.22 625.78,155.91 626.47,155.6 627.16,155.29 627.85,154.97 628.54,154.65 629.23,154.34 629.91,154.02 630.6,153.7 631.29,153.39 631.98,153.08 632.67,152.77 633.36,152.46 634.06,152.16 634.75,151.86 635.45,151.57 636.15,151.28 636.85,150.99 637.55,150.7 638.25,150.42 638.95,150.13 639.65,149.85 640.35,149.57 641.05,149.28 641.75,149 642.46,148.72 643.16,148.44 643.86,148.16 644.56,147.88 645.26,147.59 645.96,147.31 646.67,147.03 647.37,146.75 648.07,146.47 648.77,146.19 649.47,145.91 650.18,145.63 650.88,145.35 651.58,145.07 652.28,144.79 652.99,144.51 653.69,144.23 654.39,143.96 655.1,143.68 655.8,143.4" fill="none" stroke="#000c5c" stroke-width="1.9" stroke-linejoin="round" stroke-linecap="round"/>
<polyline points="655.8,143.4 656.1,145.3" fill="none" stroke="#000c5c" stroke-width="1.5" stroke-linejoin="round" stroke-linecap="round"/>
<polyline points="550.2,277.3 575,273.2 600,268.8 613.3,266.4 630.7,264.7 647,263 650.1,263.7 650.1,276.5" fill="none" stroke="#8e8e8e" stroke-width="1.7" stroke-linejoin="round" stroke-linecap="round"/>
<polyline points="550.2,278 575,276.6 600,275 620.4,274 649,272.6 662.8,271.3 668.5,270.4 668.6,272" fill="none" stroke="#8e8e8e" stroke-width="1.7" stroke-linejoin="round" stroke-linecap="round"/>
<polyline points="550.2,277.8 575,275.8 600,273.8 625,272.6 649,271.4 662.8,270.6 662.8,277" fill="none" stroke="#8e8e8e" stroke-width="1.7" stroke-linejoin="round" stroke-linecap="round"/>
<polyline points="550.2,277.9 575,276.2 600,274.5 630,273.3 650,272.5" fill="none" stroke="#8e8e8e" stroke-width="1.7" stroke-linejoin="round" stroke-linecap="round"/>
<polyline points="550.2,277.4 575,274.6 600,272 611,270.4" fill="none" stroke="#8e8e8e" stroke-width="1.7" stroke-linejoin="round" stroke-linecap="round"/>
<polyline points="550.1,277.6 580,273.8 600,271.4 612.4,270.3" fill="none" stroke="#000c5c" stroke-width="2.7" stroke-linejoin="round" stroke-linecap="butt"/>
</svg>
</body></html>
